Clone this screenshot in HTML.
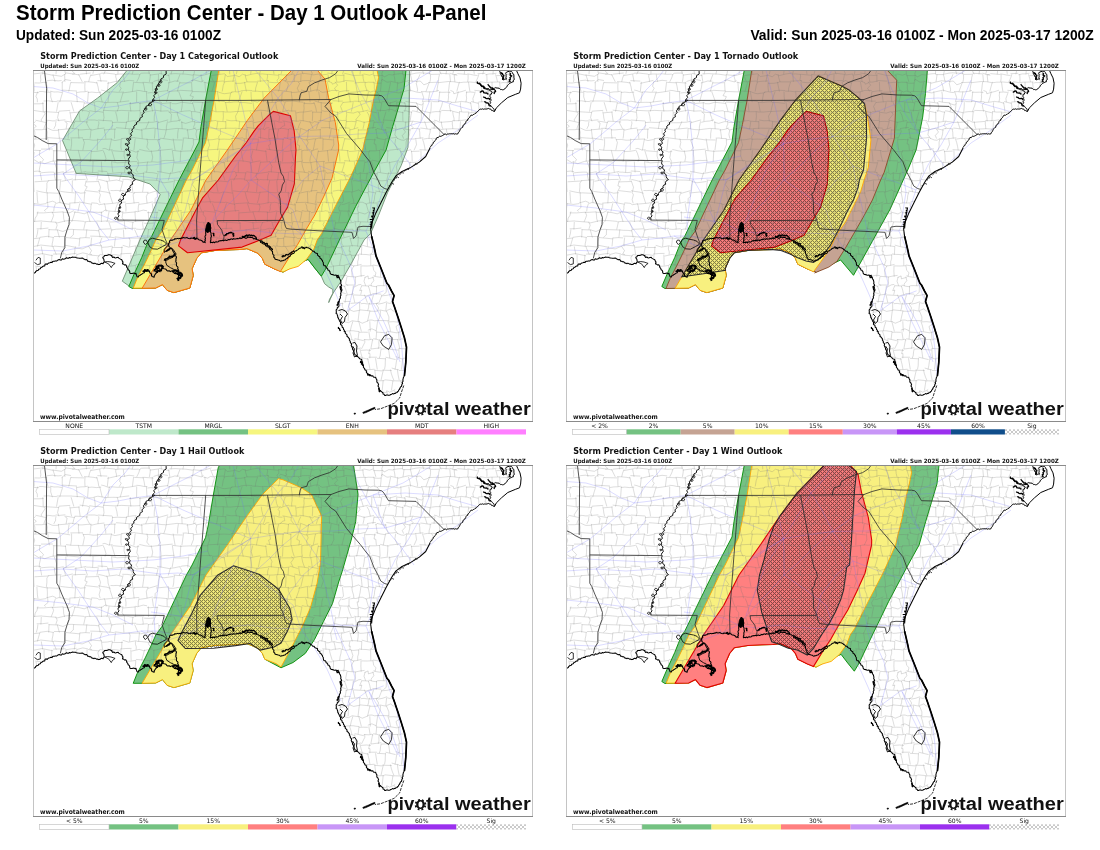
<!DOCTYPE html><html><head><meta charset="utf-8"><title>SPC Day 1 Outlook 4-Panel</title><style>html,body{margin:0;padding:0;background:#fff;width:1100px;height:850px;overflow:hidden}svg{display:block}.t1{font-family:"Liberation Sans",Arial,sans-serif;font-weight:bold;font-size:21.5px;fill:#000}.t2{font-family:"Liberation Sans",Arial,sans-serif;font-weight:bold;font-size:14.6px;fill:#000}.pt{font-family:"DejaVu Sans","Liberation Sans",sans-serif;font-weight:bold;font-size:8.9px;fill:#111}.ps{font-family:"DejaVu Sans","Liberation Sans",sans-serif;font-weight:bold;font-size:5.8px;fill:#111}.www{font-family:"DejaVu Sans","Liberation Sans",sans-serif;font-weight:bold;font-size:6.6px;fill:#111}.logo{font-family:"Liberation Sans",Arial,sans-serif;font-weight:bold;font-size:18.3px;fill:#111}.lg{font-family:"DejaVu Sans","Liberation Sans",sans-serif;font-size:6.1px;fill:#111}</style></head><body><svg width="1100" height="850" viewBox="0 0 1100 850"><defs><clipPath id="clipmap"><rect x="0" y="0" width="500" height="352"/></clipPath><pattern id="hatch" patternUnits="userSpaceOnUse" width="4" height="4"><path d="M0 0h1v1h-1zM2 2h1v1h-1zM1 1h1v1h-1zM3 3h1v1h-1zM1 3h1v1h-1zM3 1h1v1h-1z" fill="#000" fill-opacity="0.46"/><path d="M1 0h1v1h-1zM3 0h1v1h-1zM0 1h1v1h-1zM2 1h1v1h-1zM1 2h1v1h-1zM3 2h1v1h-1zM0 3h1v1h-1zM2 3h1v1h-1z" fill="#000" fill-opacity="0.08"/></pattern><pattern id="hatchleg" patternUnits="userSpaceOnUse" width="4" height="4"><rect width="4" height="4" fill="#fff"/><path d="M0 0L4 4M4 0L0 4" stroke="#000" stroke-opacity="0.35" stroke-width="0.6"/></pattern><g id="base"><path d="M10.1 0.0L10.0 1.8L9.6 4.3M22.6 0.0L23.2 1.3L23.0 4.3M31.7 0.0L32.6 4.3M39.2 0.0L38.9 0.7L41.8 3.6L39.2 4.3M53.5 0.0L53.3 1.2L53.5 4.3M60.7 0.0L59.8 4.3M72.7 0.0L72.5 0.4L70.7 4.3M85.6 0.0L85.0 1.3L84.9 4.3M100.3 0.0L99.2 4.3M115.7 0.0L116.3 4.3M128.1 0.0L128.4 4.3M139.1 0.0L138.2 3.5L138.1 4.3M150.8 0.0L150.5 1.4L149.9 4.3M161.6 0.0L161.0 4.3M173.5 0.0L173.0 4.3M186.2 0.0L186.3 0.5L186.8 4.3M196.5 0.0L196.8 4.3M204.2 0.0L204.0 1.2L203.3 4.3M218.2 0.0L217.6 4.3M227.6 0.0L226.5 4.3M240.4 0.0L241.0 4.3M249.0 0.0L248.0 4.3M260.5 0.0L259.8 1.8L258.6 4.3M269.0 0.0L268.9 0.7L270.1 4.3M277.6 0.0L278.7 2.0L279.5 4.3M289.0 0.0L289.0 0.1L288.4 4.3M299.2 0.0L299.2 0.0L298.8 4.3M308.2 0.0L308.1 0.5L310.8 0.2L309.5 4.3M319.7 0.0L319.7 1.7L320.3 4.3M327.5 0.0L327.0 4.3M340.6 0.0L340.3 1.6L340.4 4.3M348.0 0.0L349.9 0.7L348.6 4.3M360.9 0.0L361.4 4.3M369.6 0.0L369.5 4.3M378.6 0.0L377.5 4.3M389.5 0.0L390.7 4.3M397.6 0.0L396.8 1.6L396.3 4.3M406.7 0.0L406.6 1.1L408.2 4.3M413.6 0.0L413.0 4.3M420.7 0.0L419.8 4.3M431.6 0.0L431.5 1.6L431.3 4.3M440.8 0.0L441.3 4.3M450.8 0.0L449.8 4.3M460.2 0.0L460.2 1.8L459.9 4.3M476.8 1.6L476.3 4.3M0.0 4.0L8.9 3.0M8.9 3.0L20.3 5.4M7.9 4.3L7.5 6.8L7.8 9.7L7.5 11.9M20.3 5.1L28.4 6.3L32.7 3.8M19.9 4.3L20.6 7.1L21.6 9.7L22.0 11.9M32.7 2.9L46.9 5.0M31.6 4.3L31.9 11.9M46.9 4.2L57.7 3.0M45.5 4.3L49.3 11.9M57.7 5.6L68.1 3.7M58.1 4.3L56.5 8.3L55.7 11.9M68.1 3.2L73.1 3.1L77.5 3.6L82.1 4.1M66.6 4.3L68.1 11.9M82.1 4.5L86.8 4.0L91.2 4.0M82.9 4.3L82.7 6.8L83.4 9.0L83.4 11.9M91.2 4.2L96.2 3.8L101.2 4.3L105.8 4.1M90.3 4.3L90.7 7.8L91.7 11.9M105.8 5.1L108.1 3.3L111.1 3.1L116.8 3.1M107.0 4.3L105.6 8.1L103.7 11.9M116.8 5.1L126.0 3.9M117.4 4.3L117.1 7.8L116.4 11.9M126.0 3.3L136.3 5.7M125.5 4.3L125.4 11.9M136.3 3.9L139.1 3.8L142.5 3.6L145.8 3.8M135.6 4.3L136.9 11.9M145.8 3.8L152.9 4.2L159.9 5.2M147.0 4.3L144.0 11.9M159.9 4.7L169.2 5.6M160.4 4.3L160.1 8.2L159.2 11.9M169.2 5.6L178.5 2.9M168.1 4.3L168.1 6.5L168.9 9.3L169.2 11.9M178.5 5.5L191.2 3.8M177.4 4.3L180.5 11.9M191.2 3.6L194.4 6.5L201.5 5.5M192.4 4.3L191.1 11.9M201.5 5.0L206.2 6.8L209.5 4.2L212.5 5.2M201.3 4.3L199.9 11.9M212.5 5.8L219.3 4.1L226.2 3.0M212.2 4.3L212.6 7.3L214.1 11.9M226.2 4.1L229.4 3.9L232.0 4.2L235.1 4.4M226.8 4.3L227.4 11.9M235.1 4.3L245.4 5.3M234.3 4.3L234.6 6.2L234.0 9.6L235.7 11.9M245.4 4.3L248.1 4.9L251.2 5.0L253.7 4.8M245.7 4.3L245.8 8.3L243.9 10.2L244.8 11.9M253.7 5.4L257.7 4.7L261.3 3.9M253.7 4.3L252.8 8.8L253.8 9.1L251.9 11.9M261.3 5.5L264.7 4.5L268.6 3.7M261.2 4.3L261.2 11.9M268.6 3.1L274.1 3.8L279.4 4.5M268.1 4.3L267.7 11.9M279.4 5.0L286.9 3.9M278.5 4.3L278.1 6.8L277.5 9.4L277.0 11.9M286.9 5.1L294.3 4.3M286.6 4.3L287.8 7.3L286.4 11.9M294.3 3.0L302.0 4.2M294.9 4.3L296.2 11.9M302.0 5.5L304.9 5.2L307.9 5.5L311.3 5.2M302.8 4.3L302.9 6.9L303.3 9.2L303.9 11.9M311.3 3.3L321.4 5.6M310.9 4.3L310.9 11.9M321.4 5.4L325.8 5.3L330.6 5.0M320.4 4.3L321.7 8.2L322.6 11.9M330.6 3.9L336.5 5.2L340.4 3.9M329.8 4.3L330.2 8.5L331.0 11.9M340.4 5.6L343.7 5.6L346.8 5.7L349.7 5.3M340.7 4.3L342.9 11.9M349.7 5.1L351.1 7.0L355.8 4.6L360.0 5.0M349.2 4.3L348.8 11.9M360.0 4.6L365.8 3.8L369.7 3.6M360.7 4.3L361.6 7.9L362.1 11.9M369.7 4.6L377.5 4.6M371.1 4.3L370.0 11.9M377.5 4.3L380.3 3.7L383.2 3.1L386.0 2.9M377.3 4.3L378.1 7.1L378.6 9.6L379.3 11.9M386.0 2.8L397.5 3.5M386.9 4.3L386.1 6.5L384.5 9.6L383.5 11.9M397.5 4.4L406.5 4.2M397.4 4.3L397.6 7.1L397.4 9.4L397.0 11.9M406.5 3.2L416.6 3.9M406.5 4.3L405.7 7.8L405.3 11.9M416.6 3.1L420.8 4.6L424.3 5.3M416.8 4.3L417.5 11.9M424.3 3.6L434.4 4.5M423.8 4.3L421.1 4.7L421.8 11.2L421.9 11.9M434.4 3.8L437.5 4.4L440.8 5.1L444.5 5.5M435.1 4.3L435.1 8.4L434.7 11.9M444.5 3.7L452.3 3.3M445.8 4.3L445.0 7.1L444.0 9.4L442.7 11.9M452.3 4.8L456.3 3.9L459.8 3.9L463.5 3.2M453.7 4.3L453.9 6.8L454.0 9.6L453.9 11.9M463.5 5.6L467.9 5.5L468.5 5.5M462.5 4.3L463.7 8.4L464.5 11.9M472.8 4.9L480.1 3.4M473.1 8.3L473.1 8.3L474.6 11.9M479.4 4.3L480.3 10.9M1.9 12.9L6.1 13.0L10.3 12.4L14.1 12.4M0.7 11.9L1.0 15.0L1.1 18.1L1.2 21.5M14.1 10.7L19.2 10.2L25.1 10.9L28.6 10.5M13.0 11.9L13.8 15.4L14.3 18.6L15.1 21.5M28.6 12.6L32.4 9.6L38.0 10.5M29.3 11.9L29.2 21.5M38.0 12.6L51.0 12.9M37.9 11.9L37.1 15.0L36.5 18.4L35.7 21.5M51.0 11.7L55.3 11.8L60.2 12.3L64.4 13.0M52.0 11.9L51.8 16.8L52.0 21.5M64.4 10.6L74.3 11.1M63.6 11.9L65.1 17.0L65.8 21.5M74.3 13.4L87.4 10.4M75.4 11.9L74.3 21.5M87.4 11.9L96.1 10.3L101.2 10.9M87.6 11.9L86.6 16.2L88.2 18.2L86.4 21.5M101.2 12.4L105.8 12.6L110.7 12.8M100.6 11.9L99.4 21.5M110.7 12.3L115.5 12.7L120.5 13.1M110.0 11.9L111.1 16.7L111.9 21.5M120.5 11.5L123.7 10.4L128.7 9.4L134.9 10.5M119.3 11.9L119.3 14.7L119.9 21.5M134.9 13.1L141.7 11.0L146.4 11.1M136.1 11.9L135.5 17.0L134.4 21.5M146.4 12.9L152.4 12.9L158.1 12.7M147.0 11.9L145.4 17.4L144.4 21.5M158.1 10.6L161.6 10.1L168.3 11.9L170.5 10.6M158.6 11.9L158.7 14.9L159.1 21.5M170.5 12.1L174.8 13.1L177.5 11.4L181.1 12.1M171.9 11.9L172.3 18.2L172.7 21.5M181.1 11.6L185.8 11.3L190.5 11.0M181.8 11.9L179.0 21.5M190.5 12.0L194.6 11.4L197.8 11.2L202.1 10.9M191.6 11.9L190.2 15.6L189.2 21.5M202.1 13.4L207.6 13.3L212.9 12.5M202.2 11.9L202.0 16.6L202.5 21.5M212.9 11.9L224.2 11.9M211.4 11.9L213.4 21.5M224.2 11.2L236.1 10.6M224.6 11.9L222.7 18.0L222.4 21.5M236.1 12.2L241.1 12.7L246.5 12.5M235.0 11.9L235.3 15.4L235.9 18.3L236.5 21.5M246.5 10.7L247.7 9.2L253.0 11.0L254.7 11.3M247.7 11.9L246.8 14.8L246.5 18.6L245.4 21.5M254.7 11.7L258.4 11.8L261.9 11.3L265.6 11.4M253.7 11.9L255.5 14.2L254.3 18.3L253.2 21.5M265.6 11.8L269.6 10.7L276.7 10.5M265.0 11.9L266.7 13.5L264.3 18.2L265.7 21.5M276.7 11.8L279.5 10.5L285.5 13.2M276.0 11.9L277.2 16.4L277.9 21.5M285.5 10.9L288.2 11.3L291.0 10.9L294.0 11.4M285.7 11.9L283.8 21.5M294.0 10.9L298.9 12.7L299.3 14.2L302.2 13.0M294.4 11.9L296.2 21.5M302.2 12.3L307.0 12.0L311.9 10.9M301.9 11.9L304.7 15.2L301.5 18.2L303.7 21.5M311.9 10.5L321.6 11.2M313.4 11.9L313.6 16.7L313.7 21.5M321.6 13.0L327.3 12.4L332.8 12.4M322.4 11.9L324.1 21.5M332.8 12.6L335.4 12.2L338.3 12.3L341.2 12.3M332.2 11.9L332.1 15.1L334.2 21.5M341.2 13.0L345.1 13.3L348.4 13.1M340.8 11.9L341.4 15.4L341.3 18.2L342.0 21.5M348.4 11.1L349.0 9.2L354.0 12.2L356.9 11.9M348.3 11.9L347.9 16.9L347.4 21.5M356.9 11.1L365.6 13.2M357.7 11.9L355.7 21.5M365.6 13.1L376.1 10.6M364.8 11.9L363.9 21.5M376.1 10.8L378.5 11.1L381.4 11.2L384.2 11.6M375.3 11.9L376.9 16.7L377.7 21.5M384.2 11.4L387.3 11.0L390.8 14.8L395.1 13.3M384.0 11.9L383.3 13.5L384.6 19.3L384.3 21.5M395.1 12.6L405.3 12.2M396.5 11.9L393.0 21.5M405.3 12.7L415.4 11.5M405.4 11.9L404.8 15.2L404.2 18.5L404.0 21.5M415.4 11.5L420.2 11.7L425.7 12.6M416.7 11.9L416.2 15.3L415.9 18.3L415.4 21.5M425.7 12.8L430.8 12.2L435.8 12.1M426.4 11.9L425.0 16.9L423.8 21.5M435.8 11.9L441.4 12.4L446.2 13.2M446.2 13.2L447.2 13.3M435.5 11.9L436.1 16.5L436.9 21.5M447.2 11.6L453.1 12.7L458.1 12.1M447.6 11.9L448.1 14.9M448.1 15.1L449.0 21.5M458.1 12.2L467.4 11.9M459.0 11.9L459.1 15.1L459.2 18.6L459.2 19.0M467.4 13.1L470.0 12.5L472.0 12.7L474.9 12.3M466.5 11.9L467.1 17.0L467.5 19.3M474.9 12.7L478.6 12.1L480.0 11.8M474.5 11.9L473.7 16.9M0.0 22.4L6.1 22.7M6.1 21.5L9.5 21.5L13.9 22.2L17.3 22.3M4.9 21.5L2.9 26.3L4.3 29.0L4.4 32.2M17.3 21.2L21.0 22.0L25.0 21.9L29.1 22.6M17.8 21.5L17.7 26.9L19.4 32.2M29.1 20.1L43.9 21.0M29.9 21.5L28.3 26.6L26.7 32.2M43.9 22.5L47.9 21.9L51.4 21.8L54.8 21.2M43.4 21.5L44.3 32.2M54.8 22.5L58.9 22.1L63.8 22.6L68.2 22.1M55.4 21.5L54.6 32.2M68.2 20.0L71.1 20.7L74.4 22.0L77.3 22.5M66.7 21.5L69.2 32.2M77.3 21.7L84.3 22.3L89.6 22.1M76.4 21.5L74.9 32.2M89.6 22.9L96.1 22.1L103.4 20.9M90.3 21.5L87.2 32.2M103.4 20.3L107.0 20.6L111.0 21.5L114.4 21.6M103.7 21.5L103.6 32.2M114.4 23.0L118.2 22.6L121.7 23.0L124.8 22.7M113.4 21.5L114.0 32.2M124.8 21.9L135.2 20.5M124.2 21.5L125.9 26.5L127.0 32.2M135.2 21.7L140.9 21.0L147.1 20.7M136.5 21.5L133.4 32.2M147.1 20.3L159.7 21.0M145.7 21.5L149.6 32.2M159.7 21.6L164.3 21.6L169.8 21.8L174.3 21.9M159.5 21.5L157.0 25.6L160.4 26.7L157.7 32.2M174.3 21.1L185.2 21.5M174.6 21.5L171.9 32.2M185.2 22.0L189.5 23.4L191.6 23.7L197.9 22.9M184.3 21.5L186.2 32.2M197.9 22.5L201.3 21.7L204.6 21.9L207.8 21.2M199.1 21.5L197.5 23.8L196.2 30.7L196.1 32.2M207.8 20.8L213.2 20.3L219.1 20.5M209.1 21.5L205.3 32.2M219.1 21.1L224.2 21.2L229.2 21.8M218.0 21.5L218.2 26.6L218.7 32.2M229.2 21.4L234.6 21.6L239.7 21.5M229.7 21.5L230.5 32.2M239.7 20.1L243.0 20.1L245.5 20.4L248.4 20.6M238.8 21.5L238.7 24.7L239.4 28.5L239.2 32.2M248.4 20.7L258.5 22.0M249.2 21.5L248.6 32.2M258.5 22.5L262.9 22.3L268.0 21.6M258.4 21.5L258.5 24.7L259.1 28.8L259.2 32.2M268.0 20.0L276.9 21.8M268.7 21.5L267.5 26.8L266.3 32.2M276.9 21.3L281.9 20.1L284.4 19.9L287.0 20.6M275.9 21.5L277.1 32.2M287.0 21.3L289.4 22.3L295.0 21.7M285.7 21.5L286.7 28.2L285.2 32.2M295.0 21.6L298.9 20.4L305.8 20.5M294.2 21.5L293.8 28.7L297.1 32.2M305.8 21.8L311.4 20.9L316.3 20.6M305.9 21.5L305.3 25.8L305.8 32.2M316.3 22.3L321.0 22.1L324.9 21.9M315.1 21.5L316.6 27.2L317.3 32.2M324.9 21.6L334.3 20.4M324.3 21.5L325.1 24.8L325.5 28.8L325.8 32.2M334.3 20.2L337.2 22.0L340.5 21.1L344.9 22.4M335.6 21.5L333.0 32.2M344.9 21.4L350.2 21.5L355.5 21.7M343.8 21.5L346.5 25.4L345.4 27.5L346.9 32.2M355.5 21.3L366.4 23.0M355.5 21.5L354.5 25.4L354.0 28.3L353.7 32.2M366.4 22.5L377.2 20.1M367.8 21.5L368.0 25.2L367.9 28.7L368.5 32.2M377.2 20.2L380.5 21.2L384.0 22.2L387.9 22.6M375.8 21.5L376.3 24.8L376.3 28.7L376.4 32.2M387.9 21.8L391.3 21.6L394.5 21.9L398.0 21.8M388.6 21.5L390.6 27.4L389.3 32.2M398.0 21.9L402.7 21.3L405.9 20.4M396.9 21.5L396.3 24.9L395.7 28.6L395.6 32.2M405.9 22.2L409.9 22.3L413.5 22.2L417.4 22.4M406.8 21.5L406.2 27.1L405.6 32.2M417.4 20.4L420.4 21.7L420.8 23.8L424.8 22.5M416.0 21.5L415.4 25.5L415.6 27.0L414.9 32.2M424.8 22.5L429.0 21.5L432.9 20.2M425.3 21.5L424.0 27.1L422.4 32.2M432.9 22.3L437.5 22.0L441.4 22.4M433.7 21.5L433.3 25.3L433.6 28.5L432.9 32.2M441.4 20.3L448.5 21.0M442.2 21.5L441.8 23.3L439.9 28.6L440.4 32.2M448.5 21.3L456.6 21.4M447.3 21.5L448.9 32.2M456.6 21.7L458.9 21.8M455.3 21.5L456.1 24.9L456.0 28.4L456.5 32.2M0.0 33.7L1.4 33.8L6.0 33.8L10.6 33.5M10.6 31.0L15.3 30.8L19.3 31.4L23.8 31.6M9.8 32.2L10.1 36.9L10.2 41.6M23.8 31.0L38.6 31.0M25.2 32.2L23.5 41.6M38.6 31.1L43.0 31.4L47.0 31.7L51.2 32.0M38.1 32.2L40.9 41.6M51.2 33.2L60.6 32.7M51.4 32.2L49.5 41.6M60.6 32.2L64.9 31.2L71.6 32.4M61.1 32.2L61.7 35.1L62.1 38.3L62.2 41.6M71.6 32.6L78.9 32.3L85.7 32.4M73.0 32.2L72.4 35.0L71.1 38.5L70.4 41.6M85.7 32.1L96.2 30.9M84.2 32.2L85.7 37.4L84.1 41.6M96.2 33.3L98.7 33.7L103.2 32.9L106.0 32.6M97.5 32.2L97.1 35.3L97.9 41.6M106.0 33.5L112.5 32.6L118.6 31.2M107.1 32.2L106.9 41.6M118.6 32.4L129.1 33.0M118.3 32.2L118.7 37.1L119.7 41.6M129.1 33.5L138.7 32.7M128.1 32.2L127.8 41.6M138.7 33.6L143.1 33.8L148.8 32.3M137.3 32.2L137.3 37.1L137.9 41.6M148.8 32.3L154.5 32.9L159.9 33.5M149.4 32.2L149.0 37.1L148.1 41.6M159.9 32.0L170.0 32.5M159.4 32.2L160.9 37.3L162.0 41.6M170.0 32.8L175.5 32.3L181.7 31.1M169.6 32.2L167.8 41.6M181.7 30.8L187.0 30.9L191.7 31.5M181.9 32.2L183.0 41.6M191.7 32.4L196.7 32.6L200.9 32.0L205.9 31.9M192.5 32.2L194.2 41.6M205.9 32.5L212.0 32.6L218.9 33.4M207.1 32.2L205.9 37.0L204.9 41.6M218.9 31.0L224.5 32.1L227.1 30.6L233.3 30.9M220.0 32.2L220.6 36.6L221.4 41.6M233.3 32.8L243.9 32.2M234.2 32.2L234.8 35.3L234.8 38.6L235.2 41.6M243.9 31.6L249.2 30.8L251.5 32.2M242.5 32.2L243.6 38.4L244.8 41.6M251.5 31.7L255.8 31.4L259.5 31.0M252.3 32.2L251.2 35.1L250.3 38.8L249.8 41.6M259.5 31.1L270.5 32.2M259.1 32.2L259.1 35.5L258.6 38.5L258.8 41.6M270.5 33.3L274.4 33.6L277.6 33.7L281.6 33.3M271.5 32.2L270.9 35.6L271.1 38.6L270.7 41.6M281.6 31.0L283.7 31.6L286.6 32.5L288.9 32.8M280.7 32.2L282.0 35.2L282.9 38.2L283.5 41.6M288.9 32.9L299.4 33.5M288.2 32.2L288.4 41.6M299.4 30.8L303.1 30.9L306.3 31.2L309.8 31.1M299.1 32.2L298.2 34.3L297.3 40.6L298.4 41.6M309.8 32.5L320.7 31.5M310.1 32.2L307.6 36.4L309.5 41.6M320.7 31.2L324.8 31.3L328.1 31.5M320.2 32.2L319.4 36.8L318.3 41.6M328.1 30.8L337.6 31.7M327.1 32.2L328.9 36.6L330.3 41.6M337.6 31.7L341.0 32.2L344.6 32.2L348.6 32.8M338.8 32.2L338.6 41.6M348.6 31.2L352.5 32.0L356.0 32.4M348.9 32.2L347.2 41.6M356.0 33.3L363.9 30.9M357.4 32.2L356.8 37.0L355.8 41.6M363.9 32.0L372.5 33.2M363.6 32.2L364.2 38.6L361.8 41.6M372.5 31.4L377.9 32.4L383.1 32.8M371.6 32.2L372.9 37.3L371.6 41.6M383.1 33.4L388.7 35.1L390.1 33.4M383.3 32.2L385.3 37.3L384.0 41.6M390.1 31.5L393.5 31.1L396.5 31.2L399.6 31.1M390.3 32.2L389.2 41.6M399.6 31.6L404.3 31.7L408.5 31.0M398.3 32.2L398.2 36.9L397.8 41.6M408.5 31.5L418.3 31.8M409.5 32.2L408.8 35.3L407.5 38.7L406.5 41.6M418.3 32.4L421.4 32.4L425.5 31.9L428.5 31.3M418.6 32.2L416.2 34.9L417.6 41.6M428.5 31.5L433.7 32.0L438.1 33.3M427.7 32.2L427.3 35.7L427.8 37.6L428.6 41.6M438.1 31.5L445.4 33.4M437.5 32.2L438.4 37.0L438.9 41.6M445.4 32.0L453.7 31.4M445.1 32.2L445.8 35.8L445.9 38.8L446.2 40.1M453.7 33.1L457.3 32.3M453.5 32.2L451.9 36.9L453.1 37.1L453.4 38.8M0.0 40.3L11.1 42.0M11.1 41.6L25.8 42.5M10.9 41.6L12.1 43.7L8.0 50.0L9.0 51.3M25.8 41.2L37.2 40.4M25.9 41.6L24.6 47.4L25.9 51.3M37.2 42.9L46.7 42.0M36.7 41.6L37.5 45.2L37.8 47.9L38.6 51.3M46.7 40.1L49.7 40.5L53.2 40.8L56.3 41.7M45.8 41.6L47.2 51.3M56.3 40.6L61.2 41.5L65.3 41.4L70.1 42.3M56.6 41.6L55.8 44.6L54.6 47.8L53.9 51.3M70.1 40.3L82.2 40.9M70.4 41.6L71.0 47.7L70.2 51.3M82.2 40.8L88.7 40.4L95.2 40.7M82.6 41.6L83.9 46.8L84.5 51.3M95.2 40.7L101.2 40.9L107.1 40.6M95.8 41.6L95.2 51.3M107.1 43.0L114.8 41.5L121.8 40.2M107.3 41.6L106.7 51.3M121.8 40.2L128.7 41.1L135.5 40.8M122.1 41.6L121.3 46.1L121.2 51.3M135.5 42.0L145.7 42.8M136.0 41.6L138.4 44.3L137.9 51.3M145.7 42.0L151.3 41.1L157.6 40.7M144.2 41.6L144.5 44.8L145.7 47.7L146.4 51.3M157.6 41.5L162.3 41.7L167.2 42.6M158.5 41.6L158.9 46.9L159.6 51.3M167.2 40.3L170.7 40.8L178.4 41.2M167.3 41.6L168.0 51.3M178.4 40.3L182.8 41.8L191.4 41.6M177.9 41.6L178.7 51.3M191.4 42.0L197.8 42.0L204.2 41.4M190.2 41.6L190.4 46.8L189.9 51.3M204.2 41.6L218.5 40.7M205.0 41.6L202.5 46.1L203.4 51.3M218.5 41.2L221.4 40.9L225.0 40.6L227.9 40.2M217.1 41.6L218.9 44.8L220.8 51.3M227.9 40.3L231.4 40.5L234.2 41.0L237.5 41.1M228.3 41.6L228.7 45.2L230.2 51.3M237.5 42.6L242.7 42.0L247.7 41.9M236.9 41.6L237.5 44.8L238.6 48.1L239.3 51.3M247.7 42.9L250.3 41.7L253.1 40.8L256.0 40.2M247.6 41.6L245.1 44.3L246.6 46.3L246.0 51.3M256.0 40.9L263.2 41.0M254.8 41.6L258.4 51.3M263.2 43.0L266.7 42.2L270.6 42.0M262.6 41.6L263.2 46.5L263.2 51.3M270.6 42.1L274.7 41.5L279.2 40.8M270.4 41.6L270.1 45.1L270.1 48.5L270.2 51.3M279.2 42.1L289.0 42.3M279.7 41.6L279.6 46.2L279.3 51.3M289.0 40.7L292.0 41.4L294.3 41.2L297.0 42.0M288.3 41.6L287.5 51.3M297.0 40.7L299.7 41.1L303.0 42.2L305.9 42.6M296.7 41.6L297.4 51.3M305.9 41.8L308.9 41.7L311.2 41.2L313.9 41.3M304.4 41.6L305.1 51.3M313.9 42.3L320.3 43.1L325.1 41.5M313.4 41.6L313.7 44.6L313.2 48.4L313.4 51.3M325.1 42.2L330.1 41.4L335.2 40.1M325.7 41.6L327.0 44.5L322.9 49.5L323.2 51.3M335.2 41.0L343.9 42.8M333.9 41.6L335.9 45.1L337.4 51.3M343.9 40.2L352.5 40.6M345.3 41.6L346.2 51.3M352.5 40.4L356.0 39.3L359.0 39.5L362.4 41.0M353.0 41.6L350.1 51.3M362.4 41.0L370.6 42.8M363.6 41.6L363.2 45.1L363.1 47.9L362.3 51.3M370.6 40.8L373.8 40.9L376.0 41.8L379.1 42.2M369.7 41.6L369.9 51.3M379.1 40.8L381.9 41.2L384.8 42.0L387.4 42.8M378.7 41.6L378.0 45.0L377.6 47.8L377.1 51.3M387.4 40.4L392.8 41.8L398.2 43.0M388.2 41.6L388.4 44.9L388.3 48.1L387.9 51.3M398.2 42.2L403.0 41.6L408.3 41.7M397.3 41.6L396.6 46.1L396.3 51.3M408.3 40.4L419.0 40.7M407.2 41.6L406.4 51.3M419.0 41.1L426.3 42.9M419.7 41.6L420.1 44.7L421.0 48.3L421.1 51.3M426.3 41.5L430.7 42.1L435.5 42.0M426.6 41.6L426.2 46.6L425.9 51.3M435.5 43.1L439.8 42.3L444.0 41.8M435.8 41.6L435.1 46.5L434.8 49.9M459.9 40.6L461.0 40.6L461.3 40.7M2.5 50.2L12.9 52.6M2.5 51.3L0.2 53.8L3.3 56.0L0.5 58.9M12.9 50.3L16.1 50.4L19.7 50.9L22.7 50.8M14.0 51.3L12.8 54.0L11.6 56.3L10.9 58.9M22.7 49.9L26.3 50.4L32.4 49.8M23.1 51.3L22.5 53.8L22.7 55.1L20.8 58.9M32.4 51.2L35.8 51.6L38.4 52.1L41.6 52.6M31.5 51.3L34.1 53.1L33.1 58.9M41.6 51.2L48.2 51.4L55.1 52.1M42.0 51.3L40.9 53.8L40.3 56.4L39.7 58.9M55.1 50.0L58.5 50.0L61.8 50.0L64.7 50.6M53.8 51.3L53.5 53.0L56.6 58.9M64.7 50.0L79.2 51.0M65.7 51.3L65.9 53.6L65.2 56.4L65.0 58.9M79.2 52.6L84.3 52.2L88.8 52.4L94.1 52.4M79.5 51.3L79.3 55.4L78.6 58.9M94.1 51.7L99.2 50.9L103.4 50.6M93.7 51.3L92.3 58.9M103.4 52.8L115.1 52.7M102.7 51.3L101.9 53.7L101.5 56.4L101.2 58.9M115.1 52.4L120.3 52.2L124.7 51.3M115.8 51.3L115.0 53.6L113.6 56.5L112.7 58.9M124.7 52.8L128.1 51.8L132.0 50.7L135.2 49.9M125.4 51.3L124.7 53.8L124.5 56.3L124.5 58.9M135.2 52.3L139.8 51.3L143.7 51.0L148.0 49.8M134.5 51.3L133.4 56.8L133.3 58.9M148.0 52.1L152.7 53.4L158.3 51.7L162.4 51.6M148.8 51.3L149.1 58.9M162.4 52.5L167.4 52.4L172.9 51.6M161.6 51.3L161.8 54.2L160.8 56.3L160.9 58.9M172.9 52.3L178.5 51.0L183.3 50.4M173.4 51.3L173.8 53.9L173.5 56.0L173.6 58.9M183.3 51.0L188.3 51.5L193.2 51.7M184.8 51.3L184.1 56.2L183.5 58.9M193.2 50.0L198.0 50.8L202.7 50.6L207.0 51.4M192.7 51.3L192.9 54.7L192.7 58.9M207.0 51.7L211.2 51.8L215.7 51.7L220.4 51.1M206.6 51.3L206.0 58.9M220.4 52.7L231.8 50.7M220.0 51.3L220.9 58.9M231.8 51.4L235.9 51.5L240.2 51.2M232.4 51.3L231.7 55.1L230.3 58.9M240.2 50.9L243.1 51.0L246.0 52.1L249.5 52.2M241.2 51.3L241.7 55.1L242.3 58.9M249.5 50.8L258.3 52.5M250.9 51.3L251.8 55.7L249.6 56.2L247.1 58.9M258.3 50.3L261.1 50.9L263.7 51.2L266.4 51.1M258.5 51.3L258.0 55.2L260.7 58.9M266.4 50.3L270.1 50.7L274.0 51.5L277.8 52.2M267.9 51.3L266.2 55.0L264.8 58.9M277.8 52.2L279.1 53.1L281.4 51.6L285.6 52.4M276.7 51.3L278.0 54.2L279.1 56.2L280.1 58.9M285.6 50.5L288.8 50.4L292.2 51.1L295.7 51.4M286.2 51.3L284.4 55.4L283.3 58.9M295.7 51.5L300.2 50.7L305.3 49.9M296.3 51.3L296.6 58.9M305.3 50.1L309.3 50.5L313.1 50.4M304.0 51.3L304.2 53.9L304.0 56.5L304.0 58.9M313.1 51.6L318.3 51.4L323.1 51.7M313.4 51.3L312.6 58.9M323.1 50.2L327.4 51.2L332.1 52.7M323.3 51.3L321.2 58.9M332.1 52.2L336.8 51.3L341.0 50.5M331.2 51.3L330.9 54.8L330.0 58.9M341.0 52.3L350.5 52.2M341.1 51.3L339.9 58.9M350.5 50.1L361.1 50.5M351.0 51.3L349.6 55.1L348.5 58.9M361.1 51.7L366.3 51.6L371.7 51.8M360.0 51.3L362.1 54.9L363.3 58.9M371.7 52.4L380.5 51.0M372.8 51.3L372.0 58.9M380.5 51.5L384.7 51.8L388.4 52.4L391.8 52.3M379.8 51.3L377.8 55.3L380.1 57.7L379.0 58.9M391.8 52.4L394.9 52.3L398.0 52.0L401.0 51.7M391.6 51.3L392.8 55.0L394.1 58.9M401.0 50.1L403.5 50.7L406.1 52.0L409.1 52.5M401.9 51.3L401.0 58.9M409.1 52.2L419.3 51.4M408.2 51.3L408.6 54.1L409.0 56.5L409.9 58.9M419.3 50.6L423.9 50.7L428.1 50.3M419.4 51.3L419.3 54.1L419.6 56.2L419.8 58.9M428.1 50.5L432.9 49.8L433.9 50.2L434.4 50.4M427.5 51.3L427.0 58.9M2.2 59.7L8.4 59.7L14.1 59.1M0.9 58.9L1.8 62.0L1.8 65.0L2.5 68.6M14.1 57.9L18.2 59.8L19.9 60.4L25.1 60.3M13.4 58.9L14.3 62.1L14.0 65.2L14.8 68.6M25.1 59.8L35.0 59.0M25.3 58.9L25.9 63.7L26.4 68.6M35.0 58.4L38.6 58.3L41.4 58.8L44.8 58.9M36.1 58.9L35.7 62.1L35.2 65.3L35.2 68.6M44.8 59.9L49.1 59.9L54.1 59.4L58.3 59.3M45.5 58.9L45.4 63.5L46.0 68.6M58.3 60.2L64.5 58.8L71.4 58.0M58.0 58.9L57.8 61.7L57.5 65.7L57.0 68.6M71.4 60.0L77.3 59.4L83.0 59.0M71.3 58.9L71.9 63.0L72.7 65.3L72.8 68.6M83.0 57.7L97.3 58.8M81.8 58.9L81.6 63.9L81.5 68.6M97.3 58.3L109.5 60.3M96.2 58.9L96.1 63.1L98.8 68.6M109.5 59.2L121.3 58.1M108.7 58.9L109.2 68.6M121.3 58.2L125.0 59.0L128.9 59.6L132.1 59.7M122.1 58.9L121.9 63.6L121.4 68.6M132.1 59.9L138.2 59.1L144.0 58.4M133.4 58.9L132.4 64.0L130.8 68.6M144.0 58.4L153.5 59.1M145.4 58.9L144.7 63.6L144.6 68.6M153.5 60.1L158.6 59.4L163.1 58.0M154.3 58.9L155.7 68.6M163.1 59.9L168.4 58.9L173.7 58.0M162.1 58.9L163.7 60.5L162.9 64.2L163.8 68.6M173.7 57.7L180.3 58.3L186.9 59.0M172.5 58.9L173.2 62.2L174.3 65.1L174.8 68.6M186.9 58.6L194.1 58.2L201.8 58.3M187.4 58.9L187.6 64.3L185.9 66.0L185.6 68.6M201.8 58.1L213.7 59.3M203.2 58.9L201.7 63.6L199.5 68.6M213.7 57.4L227.9 59.2M214.0 58.9L213.3 63.4L213.2 68.6M227.9 58.6L232.0 59.7L232.9 58.0L236.3 57.6M227.7 58.9L227.5 68.6M236.3 59.3L244.9 58.9M236.1 58.9L235.7 68.6M244.9 59.0L247.5 58.3L250.7 58.5L255.8 59.5M245.8 58.9L244.4 64.1L244.9 68.6M255.8 58.6L260.9 59.2L266.5 59.8M255.6 58.9L254.6 68.6M266.5 58.0L271.9 59.9L274.0 61.0L277.1 59.3M267.6 58.9L266.8 63.7L265.7 68.6M277.1 60.3L287.8 59.7M275.8 58.9L274.9 64.0L274.6 68.6M287.8 57.8L291.4 57.7L294.6 57.6L297.5 57.7M287.2 58.9L287.4 64.1L287.3 68.6M297.5 58.2L306.2 60.2M298.2 58.9L297.4 63.5L296.2 68.6M306.2 57.9L311.5 57.8L316.7 58.2M305.7 58.9L305.7 68.6M316.7 59.9L319.2 59.5L322.7 58.4L325.2 57.6M316.9 58.9L316.8 63.8L316.7 68.6M325.2 60.1L329.9 59.9L334.0 60.0M325.4 58.9L325.2 61.8L325.1 65.3L325.1 68.6M334.0 58.6L337.2 58.1L339.8 57.6L342.8 57.5M334.6 58.9L335.2 61.6L332.1 68.6M342.8 60.1L344.1 58.4L350.9 60.1L353.3 59.9M342.6 58.9L343.2 60.6L343.7 64.5L344.7 68.6M353.3 57.5L358.5 58.2L363.1 59.2M352.1 58.9L353.1 61.9L354.0 65.2L355.5 68.6M363.1 60.0L365.1 59.1L367.6 58.6L370.1 58.2M362.8 58.9L361.9 64.9L364.7 68.6M370.1 58.7L377.6 60.1M370.3 58.9L372.5 62.0L369.3 65.5L370.6 68.6M377.6 58.8L383.2 58.4L387.4 59.0M377.0 58.9L376.6 63.9L375.4 68.6M387.4 58.0L391.4 58.5L395.0 59.1L398.3 59.3M386.1 58.9L386.8 62.5L386.9 65.7L387.3 68.6M398.3 58.1L401.4 58.1L403.9 58.1L406.7 58.5M397.3 58.9L397.1 62.3L396.2 65.4L396.0 68.6M406.7 59.2L409.0 59.5L411.6 59.1L414.3 58.9M406.1 58.9L407.0 66.5M414.3 59.0L420.2 58.7L425.8 59.0M413.4 58.9L413.8 62.2L414.5 64.3M425.8 59.0L427.8 59.2M425.8 58.9L424.4 63.8M0.0 69.3L5.4 68.9L10.1 68.8L14.8 68.2M1.0 68.6L0.0 70.3M0.0 71.1L1.7 75.1L0.2 80.3M14.8 67.6L20.1 68.0L25.9 68.4M14.9 68.6L15.4 74.6L16.4 80.3M25.9 68.0L37.3 69.9M26.8 68.6L27.5 72.6L27.4 76.8L27.7 80.3M37.3 67.9L50.0 67.8M38.6 68.6L38.6 74.3L37.7 80.3M50.0 69.6L55.2 69.4L60.0 70.2L64.5 70.1M49.8 68.6L51.4 72.6L49.8 80.3M64.5 69.6L78.5 69.0M64.7 68.6L64.4 74.6L64.2 80.3M78.5 69.6L82.0 70.6L87.9 69.4M78.5 68.6L76.3 80.3M87.9 68.6L102.0 67.5M89.1 68.6L88.1 70.5L87.9 77.1L88.5 80.3M102.0 67.8L114.7 69.5M102.2 68.6L100.9 80.3M114.7 69.6L127.4 69.6M113.9 68.6L114.8 72.5L113.8 77.1L116.4 80.3M127.4 68.2L140.3 70.0M127.6 68.6L124.7 70.4L127.5 78.2L124.9 80.3M140.3 69.8L149.6 70.0M140.1 68.6L142.1 80.3M149.6 68.1L152.9 68.0L156.6 68.5L160.4 68.6M150.5 68.6L148.9 80.3M160.4 69.8L173.7 68.2M160.3 68.6L160.5 74.4L158.2 80.3M173.7 70.0L179.8 69.6L185.1 68.7M174.9 68.6L176.6 75.2L174.5 80.3M185.1 69.3L191.2 69.1L197.7 69.4M186.4 68.6L185.5 73.9L184.5 80.3M197.7 68.7L201.7 68.4L206.3 68.2L210.1 67.8M198.9 68.6L200.1 80.3M210.1 68.8L224.9 69.1M211.2 68.6L211.9 71.7L208.5 77.1L209.7 80.3M224.9 67.1L235.5 69.3M225.5 68.6L225.0 72.8L224.1 76.4L223.4 80.3M235.5 68.6L239.5 68.2L243.5 68.0M236.6 68.6L237.5 74.3L235.6 75.1L237.1 80.3M243.5 68.5L250.8 69.4M243.4 68.6L242.8 74.2L242.2 80.3M250.8 67.4L253.5 68.1L255.9 69.1L258.3 69.3M250.2 68.6L249.2 80.3M258.3 67.7L265.4 67.2M257.8 68.6L257.8 72.5L258.0 76.5L257.8 80.3M265.4 67.3L271.1 69.6L274.3 70.0M265.5 68.6L263.8 74.4L266.6 75.7L265.9 80.3M274.3 69.8L281.8 68.7M273.4 68.6L275.2 72.8L273.5 76.0L274.3 80.3M281.8 69.2L285.5 68.1L289.9 68.1M282.6 68.6L281.6 72.8L281.0 76.5L280.1 80.3M289.9 69.0L299.7 69.9M290.0 68.6L290.0 74.3L289.8 80.3M299.7 67.3L303.3 67.2L307.4 67.6L310.9 67.4M300.5 68.6L300.8 74.7L298.2 80.3M310.9 68.6L322.2 69.8M311.8 68.6L310.3 74.6L308.9 80.3M322.2 68.9L327.4 68.5L332.1 67.4M321.9 68.6L322.0 80.3M332.1 69.7L337.4 69.5L342.8 69.9M331.5 68.6L331.7 72.3L332.2 76.7L332.8 80.3M342.8 67.5L347.7 69.0L352.4 69.7M341.9 68.6L341.1 74.0L342.8 74.3L343.4 80.3M352.4 69.0L356.6 68.1L360.0 67.9L363.8 67.2M352.6 68.6L350.2 80.3M363.8 68.2L368.4 70.0L371.0 70.3L373.7 68.6M362.7 68.6L361.9 73.8L364.7 80.3M373.7 69.0L381.8 69.0M374.0 68.6L373.1 72.2L373.1 76.4L372.1 80.3M381.8 68.5L384.8 68.4L387.7 68.0L390.4 67.8M382.7 68.6L383.5 74.7L381.0 80.3M390.4 69.1L394.6 68.4L399.1 68.5M389.4 68.6L390.7 72.6L391.6 76.5L392.2 80.3M399.1 68.2L401.2 68.5L403.3 68.5M398.6 68.6L400.7 72.1L397.2 75.3L397.8 76.6M0.0 80.2L8.0 80.6M0.0 81.0L1.1 82.6L0.5 86.8L0.0 90.5M8.0 79.1L19.8 79.0M6.8 80.3L6.5 85.4L10.4 89.4L9.4 91.6M19.8 80.7L26.4 80.8L33.0 81.4M20.9 80.3L20.6 83.8L20.5 87.6L20.2 91.6M33.0 79.6L39.3 80.4L46.1 80.4M32.3 80.3L32.8 84.2L33.3 87.9L34.2 91.6M46.1 80.6L52.0 80.7L58.2 80.5M45.3 80.3L48.1 91.6M58.2 81.5L64.1 81.3L69.5 80.4M58.7 80.3L57.9 84.4L57.8 88.1L57.1 91.6M69.5 78.8L71.9 78.4L75.8 80.0L79.6 79.7M70.0 80.3L71.5 83.5L73.0 88.6L72.0 91.6M79.6 80.7L91.5 81.7M78.7 80.3L80.5 86.1L82.1 91.6M91.5 80.8L95.5 79.4L102.9 82.1L106.3 81.1M91.4 80.3L91.0 85.9L92.8 91.6M106.3 79.4L112.1 80.8L118.1 81.5M105.1 80.3L103.8 87.9L105.7 91.6M118.1 81.4L127.8 80.3M118.1 80.3L119.7 87.1L118.8 91.6M127.8 80.2L139.7 79.1M127.5 80.3L127.4 84.3L127.9 87.8L128.0 91.6M139.7 80.4L149.1 81.5M139.3 80.3L141.0 91.6M149.1 81.2L156.3 80.9L163.6 81.0M147.8 80.3L147.5 85.9L147.2 91.6M163.6 80.7L175.0 80.8M164.2 80.3L162.2 84.7L163.0 91.6M175.0 79.8L185.3 79.3M174.9 80.3L174.7 86.0L176.1 89.5L177.3 91.6M185.3 79.1L196.2 79.6M186.4 80.3L186.0 85.6L185.2 91.6M196.2 80.0L201.9 79.3L206.0 78.4L209.2 79.7M195.2 80.3L194.5 91.6M209.2 80.6L212.0 80.2L215.6 80.1L218.4 79.6M208.2 80.3L209.0 85.8L210.2 91.6M218.4 79.2L233.4 81.5M219.9 80.3L218.2 86.7L219.7 91.6M233.4 79.0L236.6 79.5L240.5 80.2L243.8 80.6M232.7 80.3L233.4 85.7L234.1 91.6M243.8 80.9L245.8 80.2L248.1 80.6L250.9 79.9M245.1 80.3L243.7 84.0L242.5 91.6M250.9 81.4L255.0 81.3L259.2 80.5M250.0 80.3L249.5 91.6M259.2 80.6L262.3 80.4L265.9 79.9L268.8 79.2M258.4 80.3L259.5 86.2L261.3 91.6M268.8 80.8L271.6 80.2L274.9 80.2L277.5 79.6M268.8 80.3L268.8 84.1L268.8 88.2L269.4 91.6M277.5 81.0L279.7 80.6L282.7 79.3L285.1 78.9M278.9 80.3L278.4 84.0L277.3 87.7L276.8 91.6M285.1 81.6L290.7 81.0L295.5 80.5M285.4 80.3L283.3 91.6M295.5 80.2L299.0 79.9L302.1 80.3L305.8 79.8M294.4 80.3L295.6 91.6M305.8 79.9L315.8 80.7M305.9 80.3L306.6 86.3L307.0 91.6M315.8 81.5L321.1 81.2L325.8 80.5M314.4 80.3L315.2 86.0L316.8 91.6M325.8 80.9L330.8 81.6L336.4 81.7M326.1 80.3L323.6 91.6M336.4 80.8L342.2 80.8L347.2 80.4M336.7 80.3L335.4 83.7L337.0 88.9L334.1 91.6M347.2 79.3L349.8 80.0L353.2 80.7L356.3 81.0M346.5 80.3L346.9 86.3L347.1 91.6M356.3 80.2L361.6 79.6L367.8 78.8M354.8 80.3L354.7 86.0L354.2 91.6M367.8 81.7L372.9 81.0L378.1 79.6M367.4 80.3L368.6 86.2L369.7 91.6M378.1 81.5L386.6 81.1M378.2 80.3L378.9 83.9L379.1 88.2L379.2 91.6M386.6 79.6L395.8 80.3M387.9 80.3L388.0 83.7L388.1 88.3L387.9 90.7M0.0 89.9L0.9 89.6L5.6 92.5L8.4 91.5M8.4 92.5L11.7 93.7L18.1 91.5L21.2 90.8M7.7 91.6L7.3 95.1L6.4 99.0L6.3 102.4M21.2 91.1L32.7 90.3M21.2 91.6L23.6 98.7L23.2 102.4M32.7 90.6L39.6 91.4L46.1 91.9M32.8 91.6L33.2 102.4M46.1 90.7L59.0 90.9M47.2 91.6L47.4 96.7L48.4 102.4M59.0 91.3L63.5 90.9L68.3 90.6M60.1 91.6L59.6 102.4M68.3 90.7L72.1 90.4L75.2 90.2L78.6 90.5M68.3 91.6L69.1 102.4M78.6 91.7L84.2 92.8L92.2 92.4M78.5 91.6L79.1 97.0L79.8 102.4M92.2 92.5L96.3 91.9L100.4 91.5L104.1 91.6M92.3 91.6L91.8 95.1L92.0 98.7L91.5 102.4M104.1 93.1L115.7 92.0M105.0 91.6L105.4 95.6L102.9 100.3L105.1 102.4M115.7 92.2L119.8 91.8L124.4 92.2L128.3 91.9M114.7 91.6L113.9 95.2L114.1 99.1L113.5 102.4M128.3 90.9L132.7 90.4L137.0 90.5L141.4 90.3M128.0 91.6L128.0 102.4M141.4 92.9L148.5 93.0L155.2 92.7M141.0 91.6L139.1 102.4M155.2 90.3L158.8 90.4L162.6 91.0L165.7 91.6M155.7 91.6L154.7 102.4M165.7 90.7L179.3 90.5M166.6 91.6L164.2 102.4M179.3 91.3L185.6 91.1L189.7 92.6L191.9 92.8M179.4 91.6L180.5 97.2L181.7 102.4M191.9 91.2L199.3 91.1L206.7 90.7M191.0 91.6L191.7 95.6L192.3 98.8L193.3 102.4M206.7 90.7L211.9 91.2L216.7 92.0M205.4 91.6L205.3 102.4M216.7 93.0L222.1 91.7L227.4 90.8M217.1 91.6L218.2 96.9L218.8 102.4M227.4 92.3L237.1 91.7M227.7 91.6L226.4 97.1L225.3 102.4M237.1 92.4L242.6 92.2L248.3 91.7M236.6 91.6L239.1 96.8L238.3 98.6L238.3 102.4M248.3 92.9L258.9 92.8M247.7 91.6L247.1 98.5L249.6 102.4M258.9 92.9L264.5 91.8L269.5 91.2M258.1 91.6L260.7 93.6L257.9 97.6L260.2 102.4M269.5 92.5L273.8 92.6L277.8 92.7M268.6 91.6L269.6 96.9L271.6 102.4M277.8 92.7L280.2 92.1L282.4 91.7L284.9 91.8M277.7 91.6L279.3 102.4M284.9 91.9L288.2 91.5L292.0 91.4M283.6 91.6L284.8 102.4M292.0 93.1L294.9 92.7L298.3 92.5L301.9 92.3M290.7 91.6L290.9 96.9L290.8 102.4M301.9 92.1L304.8 92.6L307.8 92.8L311.2 92.8M300.8 91.6L300.5 97.2L300.5 102.4M311.2 90.6L314.7 90.9L318.9 91.2L322.6 91.0M311.9 91.6L310.5 96.7L308.8 102.4M322.6 90.5L327.5 90.8L332.0 90.9M321.3 91.6L322.8 102.4M332.0 92.5L334.1 92.0L336.5 91.2L339.1 90.9M331.8 91.6L331.1 97.3L330.2 102.4M339.1 90.2L342.8 90.8L347.3 92.1M338.5 91.6L340.4 97.3L338.7 99.1L339.7 102.4M347.3 93.1L355.4 92.0M346.3 91.6L346.6 95.2L347.1 98.9L347.6 102.4M355.4 92.9L358.7 92.1L362.8 91.3L365.9 90.6M356.5 91.6L357.5 102.4M365.9 92.0L370.7 91.5L376.0 91.1M365.0 91.6L363.4 97.1L364.3 102.4M376.0 92.7L381.6 92.3L386.1 92.2M377.2 91.6L376.3 98.1M0.0 101.5L0.3 101.5L4.4 101.1L8.1 101.6M8.1 102.8L12.5 102.4L17.2 102.1L21.2 102.2M7.4 102.4L7.5 104.8L8.2 107.4L8.6 110.4M21.2 103.4L30.7 101.7M21.3 102.4L21.6 106.4L22.6 110.4M30.7 102.7L41.6 101.7M30.1 102.4L31.7 106.6L32.5 110.4M41.6 103.5L47.1 102.7L53.2 101.4M42.9 102.4L42.9 104.7L42.5 107.4L42.3 110.4M53.2 102.1L56.8 102.2L61.0 102.6L64.8 102.3M51.8 102.4L54.5 110.4M64.8 101.0L74.2 101.5M65.3 102.4L64.9 104.8L64.4 107.8L63.8 110.4M74.2 103.9L88.4 102.3M74.5 102.4L75.6 106.3L76.5 110.4M88.4 102.8L91.9 102.7L94.6 103.2L98.3 103.3M88.8 102.4L86.3 110.4M98.3 101.2L103.4 104.0L111.5 103.2M96.9 102.4L98.3 106.5L100.4 110.4M111.5 102.0L115.7 102.5L119.8 102.7L124.0 103.5M110.4 102.4L110.5 106.0L110.8 110.4M124.0 101.3L136.8 103.7M125.2 102.4L124.4 106.7L123.4 110.4M136.8 103.5L141.8 102.7L147.2 101.5M137.6 102.4L135.3 110.4M147.2 102.3L148.4 101.1L154.3 100.6L157.5 101.6M147.1 102.4L149.2 106.2L146.2 109.9L147.0 110.4M157.5 103.1L167.1 102.9M158.1 102.4L157.6 110.4M167.1 101.6L179.6 103.0M165.6 102.4L168.0 110.4M179.6 101.6L185.0 101.8L190.5 102.6M178.4 102.4L178.7 105.3L178.6 108.0L178.9 110.4M190.5 103.0L202.3 101.5M189.5 102.4L190.2 105.4L191.2 107.9L191.9 110.4M202.3 102.5L213.4 102.9M202.7 102.4L203.7 105.9L203.1 105.6L200.7 110.4M213.4 101.7L225.2 103.6M212.9 102.4L212.1 106.2L211.5 110.4M225.2 103.4L235.2 102.1M224.2 102.4L222.8 106.2L225.2 110.4M235.2 101.5L246.6 102.7M235.9 102.4L234.7 106.0L234.4 110.4M246.6 102.6L251.8 102.7L256.7 102.0M245.6 102.4L244.6 110.4M256.7 101.1L264.8 103.5M255.6 102.4L255.0 110.4M264.8 101.7L269.8 102.0L275.1 102.9M265.7 102.4L266.1 105.4L266.6 108.0L267.2 110.4M275.1 101.2L278.5 102.3L281.9 102.9L285.1 103.5M275.7 102.4L275.3 105.4L275.2 108.0L275.2 110.4M285.1 101.7L287.5 101.4L290.2 100.9L292.9 101.0M285.7 102.4L283.4 110.4M292.9 101.8L293.8 103.2L298.6 102.7L301.0 102.1M292.1 102.4L291.3 110.4M301.0 101.5L304.2 102.0L308.0 102.0L311.7 102.6M300.0 102.4L301.6 104.3L300.9 105.8L301.7 110.4M311.7 103.8L314.0 105.6L320.2 103.6M310.5 102.4L313.3 110.4M320.2 101.6L324.5 104.1L328.0 102.8M320.4 102.4L320.2 105.2L319.7 107.4L319.0 110.4M328.0 103.2L335.4 103.8M327.1 102.4L327.4 105.0L327.2 107.4L327.2 110.4M335.4 102.3L344.4 103.8M334.3 102.4L333.0 110.4M344.4 102.1L350.0 103.2L354.9 103.8M344.3 102.4L344.0 105.2L343.7 108.0L343.4 110.4M354.9 103.4L366.2 103.0M355.7 102.4L354.7 106.2L353.7 110.4M366.2 103.3L366.7 103.2M365.8 102.4L365.9 103.8M1.6 111.8L14.8 111.0M0.5 110.4L0.7 114.3L0.8 118.1L1.1 121.9M14.8 110.7L28.4 109.7M15.8 110.4L13.9 113.1L13.9 117.2L13.4 121.9M28.4 111.3L34.4 110.2L39.8 108.9M27.5 110.4L27.3 114.5L26.9 118.3L26.5 121.9M39.8 109.9L45.8 109.5L52.7 109.4M39.4 110.4L39.1 121.9M52.7 111.9L65.3 111.5M53.3 110.4L51.9 115.9L54.2 116.7L51.4 121.9M65.3 109.4L70.4 110.5L75.0 111.9M65.1 110.4L67.5 117.3L66.4 121.9M75.0 111.1L83.8 110.0L89.3 111.5M73.8 110.4L74.8 114.5L75.1 118.1L76.3 121.9M89.3 109.3L94.3 109.4L98.5 110.0M90.1 110.4L88.6 116.3L86.9 121.9M98.5 109.3L105.0 110.1L111.8 110.3M98.0 110.4L98.6 114.3L99.3 117.8L99.8 121.9M111.8 110.0L118.7 110.1L125.6 110.4M111.2 110.4L109.6 121.9M125.6 111.4L130.9 112.8L140.5 111.5M126.4 110.4L125.4 116.1L125.0 121.9M140.5 109.9L144.7 110.5L149.6 110.6M141.6 110.4L140.9 113.9L140.7 118.0L139.9 121.9M149.6 109.1L155.1 110.4L162.5 109.0M151.0 110.4L149.8 114.6L148.7 118.5L148.1 121.9M162.5 110.6L167.7 109.9L172.1 109.3M161.6 110.4L159.2 114.5L162.9 119.4L160.2 121.9M172.1 110.2L173.8 112.0L178.1 111.3L183.4 110.3M170.9 110.4L171.8 121.9M183.4 111.3L187.6 111.1L194.7 111.7L197.8 109.0M182.8 110.4L185.0 121.9M197.8 109.3L202.3 109.0L207.0 108.8L212.1 109.1M198.3 110.4L199.1 121.9M212.1 110.2L219.1 110.1L225.8 109.3M213.6 110.4L215.9 113.4L215.9 116.1L214.0 121.9M225.8 110.5L227.0 109.5L230.5 109.8L235.9 109.7M224.6 110.4L223.5 121.9M235.9 110.1L240.4 110.0L245.0 109.5M236.7 110.4L235.3 116.7L235.1 121.9M245.0 109.6L252.3 109.4M243.7 110.4L244.5 121.9M252.3 109.4L256.8 110.4L261.3 111.7M253.0 110.4L252.9 116.5L252.5 121.9M261.3 109.1L269.9 110.8M261.4 110.4L262.8 121.9M269.9 110.7L280.5 110.7M270.5 110.4L267.8 121.9M280.5 109.5L284.4 109.7L289.0 110.1M280.5 110.4L278.3 121.9M289.0 109.4L299.5 109.7M288.3 110.4L290.4 115.8L288.3 121.9M299.5 111.7L304.2 110.7L308.5 109.6M298.7 110.4L298.3 121.9M308.5 110.1L319.6 109.1M307.5 110.4L307.4 114.3L307.5 117.7L308.0 121.9M319.6 110.9L322.2 110.6L325.5 111.2L328.0 110.9M318.4 110.4L319.2 116.1L319.6 121.9M328.0 109.8L330.6 110.3L332.6 110.6L335.3 110.9M327.9 110.4L328.6 116.1L329.1 121.9M335.3 110.0L339.6 108.4L343.8 109.3L346.6 110.4M334.7 110.4L335.6 121.9M346.6 110.7L349.1 110.8L352.2 110.5L354.7 110.9M346.4 110.4L345.1 116.1L345.2 116.2L346.6 121.9M354.7 109.3L360.1 110.2M354.4 110.4L354.6 119.6M3.4 120.8L9.8 122.2L15.4 123.1M3.9 121.9L4.2 125.9L4.4 129.6L4.9 133.3M15.4 122.8L27.4 123.4M14.1 121.9L14.4 127.5L14.3 133.3M27.4 121.4L34.5 122.3L41.7 122.9M26.1 121.9L27.0 133.3M41.7 121.5L47.7 123.2L52.6 122.7M42.6 121.9L41.8 133.3M52.6 120.6L65.0 122.0M51.8 121.9L50.9 133.3M65.0 120.7L69.2 121.5L73.5 122.1L77.5 123.3M65.8 121.9L67.4 124.8L66.1 129.7L67.2 133.3M77.5 120.5L80.6 120.6L84.1 120.4L87.8 120.9M76.2 121.9L77.8 127.4L79.7 133.3M87.8 120.5L94.9 121.6L101.7 123.2M89.3 121.9L85.4 133.3M101.7 122.5L108.4 122.3L115.0 122.3M101.7 121.9L100.1 124.8L100.8 130.6L101.1 133.3M115.0 123.4L124.4 120.7M115.3 121.9L113.3 126.6L114.1 133.3M124.4 122.9L136.0 121.8M123.8 121.9L124.5 126.2L122.2 128.6L122.0 133.3M136.0 123.2L140.7 123.3L145.1 122.4L149.7 122.5M135.6 121.9L135.3 133.3M149.7 121.2L161.6 120.5M149.3 121.9L149.0 127.2L148.5 133.3M161.6 121.3L168.5 121.6L175.1 122.1M160.1 121.9L161.4 127.9L162.5 133.3M175.1 121.3L180.3 122.7L186.9 122.9L189.6 122.3M174.6 121.9L175.3 126.1L176.8 129.5L177.5 133.3M189.6 122.0L193.1 122.2L196.0 122.6L199.7 123.1M190.8 121.9L189.5 125.5L188.3 129.4L187.2 133.3M199.7 120.8L206.2 121.6L213.2 121.7M199.6 121.9L200.5 127.8L201.2 133.3M213.2 121.7L225.8 122.9M212.1 121.9L213.5 127.8L215.6 133.3M225.8 122.4L235.8 121.6M227.2 121.9L226.2 125.7L225.5 129.2L224.2 133.3M235.8 122.3L240.1 122.7L244.7 122.8M235.5 121.9L235.1 133.3M244.7 122.2L248.6 122.4L252.4 122.4L256.0 122.9M246.0 121.9L244.9 126.7L246.5 133.3M256.0 123.2L265.6 120.8M255.3 121.9L255.3 125.9L258.4 133.3M265.6 123.3L275.8 121.2M266.6 121.9L265.8 125.8L264.6 129.2L263.1 133.3M275.8 122.4L277.9 120.8L284.3 120.5M274.4 121.9L274.6 127.4L274.9 133.3M284.3 122.4L291.7 123.3M284.2 121.9L283.2 126.0L283.1 129.6L282.2 133.3M291.7 122.6L294.3 123.1L296.9 123.1L299.7 123.0M293.0 121.9L293.4 133.3M299.7 121.2L305.1 120.3L310.3 120.6M298.4 121.9L299.1 125.7L300.6 129.2L301.3 133.3M310.3 121.8L313.6 121.8L316.8 121.7L319.9 122.1M309.4 121.9L310.0 127.1L310.5 131.0L309.0 133.3M319.9 121.9L325.6 119.9L327.4 121.0M318.8 121.9L319.3 126.0L320.5 129.9L320.9 133.3M327.4 121.2L331.5 122.3L335.4 122.8M327.9 121.9L327.1 127.5L325.8 133.3M335.4 121.6L342.5 122.9M334.9 121.9L336.2 127.7L336.9 133.3M342.5 121.0L352.9 122.9M342.9 121.9L341.7 125.8L341.4 129.4L340.3 133.3M351.8 121.9L352.0 124.6M0.1 133.5L7.5 134.4L13.3 133.6M1.2 133.3L0.6 137.5L0.0 139.4M13.3 132.8L15.8 132.2L19.5 131.2L23.2 132.7M14.7 133.3L15.0 137.5L11.5 140.4L12.4 141.5M23.2 133.5L26.4 132.3L30.7 133.5L36.3 134.3M22.6 133.3L21.1 137.6L20.7 141.5M36.3 133.1L41.2 132.8L46.0 132.5M36.9 133.3L36.7 137.6L34.0 141.5M46.0 132.0L58.4 134.2M46.8 133.3L46.2 135.8L44.9 141.5M58.4 132.8L64.1 133.3L66.3 134.7L71.5 133.9M58.7 133.3L57.9 136.1L57.9 138.6L57.2 141.5M71.5 134.1L77.3 133.6L83.4 133.0M71.2 133.3L72.1 135.7L72.6 138.6L73.2 141.5M83.4 132.7L86.7 132.9L89.6 132.2L92.9 132.1M84.8 133.3L83.2 137.2L81.9 141.5M92.9 133.6L97.7 133.4L101.8 132.8L106.2 132.4M92.4 133.3L93.0 137.5L92.9 141.5M106.2 134.4L112.9 133.4L119.8 131.9M106.0 133.3L105.4 136.4L105.2 138.9L105.2 141.5M119.8 132.8L126.8 132.9L134.1 133.6M119.2 133.3L119.9 137.6L120.4 141.5M134.1 134.0L143.6 133.0M134.0 133.3L134.2 141.5M143.6 132.1L156.2 133.7M143.4 133.3L144.9 137.6L145.6 141.5M156.2 134.5L159.8 134.1L163.6 133.1L166.9 133.0M155.7 133.3L157.4 141.5M166.9 131.8L171.4 132.0L176.5 131.7L180.7 131.9M166.0 133.3L167.2 137.3L168.8 141.5M180.7 132.2L186.3 132.2L192.3 132.5M179.2 133.3L180.9 137.4L181.9 141.5M192.3 132.0L197.5 133.5L202.3 134.4M193.6 133.3L192.4 136.4L191.9 138.7L190.8 141.5M202.3 133.6L215.5 132.8M201.2 133.3L201.9 136.0L201.8 138.7L202.6 141.5M215.5 133.3L225.3 134.3M214.4 133.3L217.1 141.5M225.3 134.4L231.2 133.6L236.6 132.3M225.9 133.3L227.1 137.0L225.9 141.5M236.6 132.4L239.2 132.7L241.6 132.3L244.7 132.8M238.0 133.3L237.2 136.4L237.3 138.9L236.4 141.5M244.7 133.2L249.8 133.5L255.0 134.2M245.8 133.3L247.0 141.5M255.0 134.6L257.6 134.3L260.6 134.9L262.9 134.8M253.9 133.3L254.9 137.5L255.4 141.5M262.9 132.6L273.1 132.3M261.7 133.3L262.2 135.7L262.2 139.0L262.8 141.5M273.1 132.4L283.3 134.3M272.5 133.3L273.7 136.1L273.9 138.8L275.1 141.5M283.3 132.1L286.0 132.5L288.2 132.4L290.5 132.5M283.3 133.3L282.7 136.3L282.2 139.2L281.9 141.5M290.5 132.0L294.5 132.6L298.8 132.9M289.8 133.3L288.8 137.1L288.7 141.5M298.8 132.7L301.8 132.7L305.1 132.7L308.6 132.4M299.7 133.3L299.1 141.5M308.6 134.6L311.6 134.1L317.3 132.0M308.0 133.3L305.6 137.8L306.6 141.5M317.3 133.9L320.4 133.3L322.9 133.5L326.2 132.7M316.1 133.3L315.9 141.5M326.2 132.2L329.7 132.3L334.1 134.4M325.8 133.3L325.5 137.1L324.1 136.8L324.9 141.5M334.1 133.4L337.6 132.8L341.3 133.0L344.5 132.9M333.0 133.3L335.4 141.5M344.5 132.0L348.8 131.0L348.8 131.0M344.2 133.3L344.1 135.4L345.4 137.8M3.7 142.9L10.6 142.9L18.1 142.3M4.9 141.5L4.0 145.3L2.2 148.1L1.5 151.9M18.1 142.6L29.9 141.9M19.1 141.5L20.6 145.3L19.8 147.8L18.1 151.9M29.9 142.2L36.9 142.7L40.8 140.6M30.0 141.5L30.5 145.1L30.7 148.5L31.6 151.9M40.8 142.1L45.9 142.6L51.2 143.8L55.2 142.2M42.1 141.5L40.5 146.9L38.7 151.9M55.2 142.0L59.1 142.3L63.1 142.2L67.0 142.5M54.0 141.5L57.1 151.9M67.0 141.6L67.9 143.1L72.2 140.0L76.0 141.1M68.4 141.5L68.7 145.0L68.4 148.4L68.5 151.9M76.0 141.0L90.1 142.1M76.1 141.5L75.3 145.1L74.9 148.3L73.9 151.9M90.1 143.0L102.5 141.9M89.9 141.5L89.1 147.7L91.8 151.9M102.5 141.3L104.6 141.7L110.2 140.1L114.1 140.8M102.1 141.5L102.1 144.9L102.4 148.5L102.7 151.9M114.1 142.6L117.7 142.7L121.2 142.3L125.1 142.6M115.4 141.5L115.6 151.9M125.1 140.1L129.4 141.2L134.5 141.7L139.2 142.2M124.1 141.5L123.9 145.3L123.2 148.3L122.6 151.9M139.2 141.7L148.7 140.5M139.8 141.5L137.5 151.9M148.7 142.4L153.4 142.1L158.1 141.7M148.1 141.5L148.8 151.9M158.1 141.6L162.7 141.5L166.7 141.9L171.0 141.9M158.8 141.5L158.1 151.9M171.0 141.0L181.8 142.1M170.3 141.5L170.3 144.7L172.8 147.7L172.5 151.9M181.8 140.2L191.5 142.9M182.3 141.5L182.5 145.3L183.1 148.3L183.9 151.9M191.5 141.6L206.3 140.4M191.9 141.5L191.2 145.0L190.8 148.1L190.6 151.9M206.3 142.9L220.8 141.9M205.9 141.5L205.8 144.6L205.8 148.4L205.6 151.9M220.8 141.6L233.9 141.9M219.8 141.5L223.2 151.9M233.9 142.4L236.5 142.3L239.7 141.8L242.7 141.3M234.4 141.5L234.5 146.7L234.2 151.9M242.7 140.9L250.8 142.6M243.8 141.5L241.9 151.9M250.8 141.9L254.8 142.2L257.6 143.6L258.5 142.6M250.0 141.5L250.0 146.9L249.6 151.9M258.5 142.8L263.8 140.8L268.8 142.0M258.6 141.5L258.8 151.9M268.8 140.5L272.1 141.3L274.9 141.1L278.0 141.7M269.0 141.5L268.0 146.8L266.8 151.9M278.0 142.7L287.3 140.9M276.5 141.5L276.3 146.7L276.1 151.9M287.3 141.3L290.3 141.3L292.5 140.8L295.4 141.2M286.9 141.5L287.0 151.9M295.4 142.4L301.1 142.4L306.4 142.9M295.7 141.5L296.4 144.7L295.3 151.9M306.4 140.7L311.1 141.1L316.0 141.1M307.8 141.5L306.7 146.5L305.8 151.9M316.0 140.3L317.7 143.3L324.2 143.8L325.8 142.9M314.8 141.5L316.2 146.6L318.4 151.9M325.8 142.3L332.0 144.0L336.1 141.7M325.2 141.5L325.2 146.5L325.2 151.9M336.1 142.8L343.2 142.4M336.7 141.5L335.4 146.6L334.5 151.9M0.0 151.5L8.8 150.9M8.8 151.1L23.6 152.3M8.3 151.9L7.9 159.5M23.6 153.1L27.6 152.1L32.2 151.0L36.5 150.5M22.6 151.9L24.2 155.1L22.8 159.5M36.5 150.4L43.6 150.7L51.1 151.4M37.6 151.9L36.6 154.3L35.4 157.0L34.7 159.5M51.1 151.9L55.5 151.4L59.5 151.4L64.2 151.2M52.4 151.9L50.7 159.5M64.2 151.0L68.5 151.3L72.6 151.0L76.9 151.1M63.6 151.9L66.5 159.5M76.9 152.0L90.6 151.4M75.8 151.9L78.3 159.5M90.6 150.9L100.8 152.2M91.3 151.9L91.5 154.0L91.9 157.2L92.7 159.5M100.8 151.5L111.2 150.9M99.9 151.9L99.4 155.8L99.2 159.5M111.2 153.2L115.9 153.4L121.3 153.0M109.8 151.9L109.7 154.7L110.2 157.3L110.0 159.5M121.3 150.5L124.4 150.3L127.1 150.8L130.4 151.0M122.4 151.9L121.3 154.2L120.2 156.6L119.4 159.5M130.4 152.1L134.1 151.4L138.0 151.1L142.4 150.8M130.9 151.9L131.7 154.9L130.4 156.6L131.7 159.5M142.4 150.8L147.5 151.1L152.4 150.7L157.2 150.9M141.0 151.9L142.8 156.1L143.9 159.5M157.2 151.4L161.8 150.6L167.1 152.6L169.6 151.9M157.6 151.9L155.8 159.5M169.6 152.7L173.3 152.7L176.4 153.4L179.7 153.2M170.6 151.9L171.2 154.6L171.7 156.6L171.7 159.5M179.7 150.8L184.3 151.2L189.2 152.3L194.0 152.7M179.8 151.9L181.7 159.5M194.0 152.3L207.8 153.1M193.9 151.9L193.0 159.5M207.8 150.6L219.5 152.7M206.7 151.9L207.2 155.3L207.2 159.5M219.5 152.6L222.5 152.7L225.7 152.2L228.5 152.2M219.8 151.9L220.3 154.8L220.3 157.0L221.0 159.5M228.5 152.7L233.3 151.8L238.6 151.4M229.8 151.9L227.7 156.9L228.0 159.5M238.6 152.2L249.1 152.4M238.8 151.9L241.1 159.5M249.1 152.6L254.3 152.3L259.5 152.9M248.3 151.9L248.6 154.7L248.4 156.8L248.9 159.5M259.5 151.3L265.3 151.9L270.5 152.6M259.9 151.9L257.9 159.5M270.5 151.5L275.3 151.7L280.5 152.4M269.7 151.9L269.0 159.5M280.5 150.5L291.8 151.1M281.5 151.9L279.2 155.2L278.7 159.5M291.8 150.5L296.9 151.0L302.6 150.9M291.3 151.9L290.0 154.6L293.0 159.5M302.6 153.0L306.5 152.7L309.8 152.7L313.9 152.4M302.6 151.9L301.4 159.5M313.9 153.1L317.3 152.8L321.3 152.2M314.7 151.9L314.2 156.0L313.4 159.5M321.3 151.2L323.9 151.8L326.2 151.6L328.6 152.0M322.3 151.9L322.3 154.1L323.1 157.3L323.3 159.5M328.6 151.8L333.7 152.0L338.6 152.4M327.6 151.9L326.6 155.4L326.2 159.5M338.6 150.9L339.5 151.3M338.0 156.9L337.8 157.4L336.8 159.5M3.7 158.8L9.3 158.7L15.4 158.0M4.9 159.5L4.4 163.5L3.3 167.5M15.4 159.6L25.5 160.0M16.2 159.5L15.9 161.8L15.8 165.1L15.7 167.5M25.5 160.2L30.0 161.5L34.5 159.5L39.5 159.3M24.2 159.5L26.4 167.5M39.5 159.5L53.3 160.0M40.6 159.5L40.3 164.9L37.3 167.5M53.3 159.9L57.4 160.3L62.1 160.4L66.1 160.9M53.8 159.5L52.9 167.5M66.1 159.4L77.7 158.8M65.5 159.5L67.2 167.5M77.7 160.1L83.3 159.2L89.7 158.9M79.0 159.5L77.9 163.2L76.8 167.5M89.7 158.2L94.5 158.6L98.8 158.3L103.1 158.3M90.4 159.5L90.9 167.5M103.1 159.1L107.1 159.4L111.1 159.0L114.7 158.7M101.6 159.5L105.1 167.5M114.7 159.7L118.1 159.1L122.1 159.1L125.4 158.3M115.5 159.5L114.6 167.5M125.4 160.9L134.5 158.2M125.1 159.5L126.3 160.7L125.4 166.5L125.6 167.5M134.5 160.1L141.9 160.1L148.8 160.1M135.9 159.5L136.0 163.3L136.0 167.5M148.8 160.3L154.3 160.2L160.4 160.9M148.7 159.5L148.3 163.8L146.9 163.5L148.2 167.5M160.4 160.1L167.5 159.3L173.5 158.9M161.8 159.5L160.9 162.3L159.4 165.2L158.3 167.5M177.6 159.1L181.5 159.4L188.2 160.0M188.2 158.6L199.3 158.2M189.1 159.5L187.9 162.8L186.1 167.5M199.3 160.6L211.8 160.2M199.2 159.5L200.1 162.2L201.0 164.6L201.5 167.5M211.8 160.0L226.2 158.1M213.1 159.5L213.1 162.2L212.6 164.5L212.1 167.5M226.2 160.3L231.6 159.7L236.4 158.2M227.6 159.5L227.5 163.8L226.7 166.1L225.3 167.5M236.4 158.4L239.3 158.6L241.8 159.3L244.5 159.3M236.0 159.5L236.7 161.8L237.5 164.9L237.9 167.5M244.5 160.4L247.4 160.8L249.5 160.2L252.0 160.4M245.5 159.5L242.5 163.8L242.7 167.5M252.0 161.0L260.9 159.0M252.9 159.5L252.3 162.5L251.9 164.6L251.6 167.5M260.9 159.3L266.6 158.7L271.7 158.6M259.7 159.5L260.3 163.6L261.5 167.5M271.7 160.6L279.2 159.3M271.1 159.5L271.4 163.6L271.9 167.5M279.2 159.1L284.4 159.6L289.7 159.7M277.8 159.5L277.8 163.5L277.1 167.5M289.7 158.3L294.9 159.6L300.2 160.0M291.1 159.5L288.4 167.5M300.2 158.1L305.3 159.4L310.1 160.6M301.4 159.5L298.0 167.5M310.1 159.6L314.8 159.4L320.1 159.2M309.4 159.5L311.0 167.5M320.1 160.7L322.4 162.1L323.0 159.4L327.4 159.4M319.9 159.5L320.3 167.5M327.4 159.8L337.8 160.6M327.0 159.5L324.4 162.5L324.6 165.6L325.4 167.5M338.0 162.1L337.5 163.7L336.8 167.5M0.0 168.6L1.3 168.6L6.9 168.0M6.9 167.3L14.3 166.3L20.9 167.6M6.9 167.5L5.5 172.3L4.4 176.4M20.9 166.5L32.9 166.5M20.2 167.5L19.9 170.6L19.2 173.8L19.1 176.4M32.9 167.5L47.0 168.9M32.8 167.5L31.8 171.6L31.4 176.4M47.0 168.0L52.1 167.6L57.2 167.9M46.9 167.5L46.0 176.4M57.2 166.1L69.6 166.5M58.7 167.5L58.3 170.5L58.0 173.5L58.0 176.4M69.6 166.8L77.5 167.2L81.8 167.8M69.0 167.5L66.9 173.2L68.5 176.4M81.8 166.8L86.4 167.4L90.2 168.0L94.9 168.1M82.6 167.5L81.8 171.9L81.5 176.4M94.9 168.2L107.5 168.1M96.0 167.5L97.1 170.4L96.7 174.7L96.5 176.4M107.5 168.9L119.9 166.3M106.5 167.5L105.6 176.4M119.9 167.5L129.8 166.7M119.9 167.5L118.5 176.4M129.8 167.0L133.0 167.4L135.9 167.6L139.3 168.2M129.3 167.5L128.3 171.7L127.9 176.4M139.3 166.0L148.6 167.8M137.8 167.5L138.4 170.1M149.4 166.3L160.1 167.8M160.1 166.3L170.9 169.0M160.8 167.5L160.8 168.7M170.9 168.7L172.3 168.6M178.1 167.8L184.1 167.0M171.8 167.5L172.1 170.0M184.1 168.0L189.9 168.6L195.3 168.7M184.3 167.5L182.5 171.9M195.3 168.7L207.0 168.2M194.1 167.5L194.2 169.9M207.0 166.0L214.2 166.9L221.0 167.1M206.2 167.5L206.4 168.3M221.0 168.1L228.1 168.6L235.1 168.5M220.7 167.5L220.5 168.5M235.1 168.7L239.7 167.3L243.5 166.5M233.7 167.5L233.9 171.7L234.2 176.2M243.5 168.7L245.9 168.6L248.6 168.5L251.4 168.1M244.9 167.5L244.9 170.8L243.9 173.5L244.0 176.4M251.4 166.7L262.0 167.7M250.5 167.5L250.9 176.4M262.0 166.9L264.8 168.5L269.3 168.1L272.5 168.6M260.6 167.5L260.9 170.6L261.2 173.4L261.1 176.4M272.5 168.7L275.2 168.3L277.2 168.0L279.6 168.1M272.4 167.5L272.4 170.5L271.8 173.4L271.9 176.4M279.6 169.0L283.2 169.1L286.7 168.4L290.5 168.5M279.8 167.5L277.3 176.4M290.5 168.2L293.4 168.0L296.2 168.5L299.0 168.1M290.1 167.5L289.9 170.6L289.3 173.8L288.8 176.4M299.0 168.9L304.6 168.4L309.7 167.8M297.5 167.5L298.9 176.4M309.7 168.2L317.3 166.0M309.1 167.5L308.2 170.2L308.9 174.5L310.9 176.4M317.3 168.6L326.4 167.6M316.9 167.5L319.3 176.4M326.4 168.4L330.4 168.2L334.3 167.7M325.3 167.5L325.1 171.7L324.5 176.4M334.3 167.6L338.3 167.5L338.9 167.5M334.7 167.5L334.3 171.7L334.4 176.4M0.0 176.6L7.4 175.2M7.4 175.0L21.0 176.5M8.3 176.4L8.7 179.3L9.3 181.5L9.7 184.6M21.0 176.1L31.9 177.0M19.9 176.4L20.7 178.8L22.1 181.7L23.3 184.6M31.9 175.2L42.5 177.3M31.2 176.4L29.9 184.6M42.5 177.9L49.2 178.9L56.7 175.8M42.7 176.4L41.8 178.7L42.0 179.9L41.2 184.6M56.7 174.9L69.0 175.9M55.6 176.4L58.5 180.6L56.7 184.1L59.1 184.6M69.0 177.3L74.2 177.0L79.2 176.1M68.4 176.4L69.6 184.6M79.2 177.4L84.1 177.5L89.7 177.5M79.4 176.4L77.8 184.6M89.7 175.3L95.6 177.1L103.5 175.7M89.0 176.4L88.8 179.2L88.7 182.3L88.2 184.6M103.5 176.3L108.7 176.6L113.0 177.0L117.9 177.8M102.5 176.4L102.4 179.1L103.3 182.0L103.1 184.6M117.9 176.1L121.5 176.2L123.9 176.4L127.5 176.3M117.2 176.4L115.3 178.9L118.5 182.8L116.7 184.6M127.5 174.9L136.1 175.9M127.8 176.4L128.2 180.2L128.0 184.6M139.5 180.7L141.0 184.6M236.7 178.4L237.3 178.5L240.1 175.7L243.0 176.3M243.0 176.0L248.4 176.6L253.3 176.4M242.2 176.4L245.0 184.6M253.3 176.5L262.7 175.6M252.2 176.4L255.4 181.5L254.5 184.6M262.7 176.6L269.8 177.1M263.5 176.4L263.8 180.2M269.8 177.0L272.3 176.7L275.0 176.3L277.2 176.5M269.2 176.4L268.7 177.4M277.2 175.5L279.0 174.6L283.0 177.5L285.9 176.5M277.9 176.4L277.9 179.4L277.9 179.6M285.9 175.7L288.0 175.7L290.7 176.4L293.2 176.8M285.5 176.4L284.8 180.3L284.3 184.1M293.2 177.8L295.8 177.7L298.4 176.9L300.9 176.9M292.2 176.4L293.0 184.6M300.9 176.5L304.4 177.5L308.0 177.8M300.8 176.4L301.9 180.7L302.5 184.6M308.0 176.9L311.5 176.2L315.0 176.1L318.1 175.8M308.2 176.4L308.9 179.3L309.6 182.1L309.8 184.6M318.1 175.6L323.2 175.8L328.8 176.6M316.8 176.4L316.0 181.3L317.3 181.1L316.8 184.6M328.8 175.1L334.1 176.6L340.0 177.7M328.8 176.4L328.4 184.6M340.0 177.5L341.2 177.4M340.3 176.4L339.4 182.3L337.7 184.6M0.0 185.3L9.7 183.5M9.7 183.7L20.1 185.8M11.1 184.6L11.1 190.4L11.6 195.4M20.1 184.1L32.6 183.8M18.9 184.6L18.5 192.2M32.6 184.8L38.4 183.9L43.5 183.3M32.7 184.6L33.5 188.1M43.5 184.6L49.8 182.9L54.9 183.9M43.9 184.6L43.4 187.5M54.9 184.4L58.9 185.3L62.5 185.5L66.3 186.0M54.0 184.6L54.2 190.2L54.2 190.4M66.3 185.4L67.3 184.5L71.4 185.3L75.5 183.8M66.6 184.6L64.8 187.9L66.5 194.3M75.5 184.5L79.3 184.6L83.3 184.8L87.1 185.4M74.9 184.6L75.0 185.1M87.1 184.0L92.7 183.5L98.5 183.4M88.0 184.6L87.7 189.7M98.5 186.1L106.2 184.4L110.7 185.7M97.8 184.6L98.0 188.5L98.0 192.0L98.2 195.5M110.7 185.7L116.3 184.4L119.9 183.9M111.6 184.6L110.3 189.8L108.5 195.5M119.9 185.4L123.4 184.9L126.1 184.1L129.4 183.8M120.9 184.6L120.9 188.1L120.8 191.6L120.8 195.5M129.4 185.4L136.8 184.6L141.7 184.1M128.7 184.6L127.7 195.3M142.7 185.7L142.4 190.0L141.6 195.5M240.3 184.6L245.1 185.1L249.4 184.4M249.4 183.8L258.1 184.8M248.6 184.6L247.9 190.3L247.8 191.3M284.9 184.9L289.3 185.5M289.3 183.8L297.4 184.5M290.4 184.6L290.1 187.9L289.7 191.0M297.4 185.2L300.7 184.3L304.3 184.0L307.3 183.5M296.2 184.6L297.5 189.7L299.3 195.5M307.3 183.8L312.8 185.4L318.1 184.5M308.3 184.6L308.0 188.1L307.0 192.0L306.7 195.5M318.1 185.3L321.0 185.4L323.5 185.1L326.0 184.9M318.0 184.6L319.9 190.5L318.3 195.5M326.0 184.0L329.6 184.4L333.2 184.5L336.9 185.0M325.7 184.6L325.6 188.5L324.7 191.7L324.7 195.5M336.9 183.8L339.1 184.5L340.8 184.1L342.6 183.9M337.6 184.6L337.8 195.5M3.6 196.5L8.3 196.5L10.0 196.4M2.8 195.5L3.5 199.3L3.7 201.2M93.7 196.4L98.0 196.1L102.9 195.4M94.6 195.5L94.4 197.9M102.9 194.4L117.8 195.7M102.8 195.5L102.5 199.4L101.9 202.9L101.8 203.4M117.8 194.6L128.9 194.6M116.8 195.5L116.5 198.7L119.9 204.6L120.0 206.7M129.0 196.6L134.6 195.6L139.8 194.6M128.7 195.5L128.9 196.6M139.8 194.6L143.6 194.3M139.3 195.5L139.5 200.8M293.3 197.2L293.8 197.2L296.8 196.8L299.1 196.9M299.1 196.3L306.3 195.4L310.5 195.6M300.5 195.5L300.5 200.8L299.9 204.8M310.5 195.5L316.3 193.8L320.0 195.8M311.4 195.5L311.4 201.2L310.7 206.7M320.0 196.1L323.9 195.5L328.5 194.4M321.0 195.5L318.6 200.2L319.2 206.7M328.5 195.9L334.2 196.0L339.9 195.7M328.0 195.5L327.9 201.3L328.2 206.7M339.9 195.0L344.1 195.7L347.0 195.9M339.9 195.5L340.7 200.4L343.0 202.7L341.9 206.7M347.9 198.0L347.6 201.1L347.5 206.7M118.8 205.8L121.7 205.7M305.0 205.9L306.8 205.9L310.0 205.3L313.8 205.5M313.8 206.3L322.7 207.0M314.0 206.7L312.7 213.3L315.0 215.8M322.7 206.9L327.0 206.0L331.6 205.4M322.4 206.7L322.4 211.6L322.2 215.8M331.6 207.6L335.1 205.9L335.4 208.9L340.5 207.3M332.2 206.7L331.0 211.2L332.7 215.8M340.5 205.7L343.6 206.7L346.8 207.2L349.6 207.5M339.9 206.7L340.8 210.7L338.0 214.1L338.5 215.8M349.6 205.8L351.0 205.8M350.8 206.7L350.7 215.8M308.2 215.4L308.7 215.5L312.3 216.6M312.3 215.0L320.9 215.0M311.3 215.8L312.9 219.9L314.4 224.7M320.9 217.2L325.5 214.8L328.3 214.4M320.4 215.8L319.2 224.7M328.3 215.7L332.0 215.8L335.8 216.1M328.7 215.8L326.7 220.7L328.8 220.0L327.7 224.7M335.8 215.1L340.0 216.3L344.2 216.8M335.3 215.8L336.7 220.2L337.7 224.7M344.2 215.7L347.9 215.6L352.2 215.8M343.5 215.8L343.5 220.0L343.3 224.7M352.2 215.1L355.5 215.0M353.4 215.8L353.2 222.4L350.3 224.7M308.2 222.8L308.7 222.5L312.8 223.7M312.8 225.5L315.3 224.8L318.1 224.5L320.5 223.7M313.4 224.7L312.0 232.7M320.5 224.9L331.9 225.5M320.0 224.7L321.8 232.7M331.9 226.1L334.0 225.8L336.6 224.9L339.4 224.7M331.5 224.7L333.7 230.7L334.4 232.7M339.4 223.4L348.2 224.2M340.6 224.7L339.3 229.0L338.4 232.7M348.2 225.9L354.1 225.3L359.2 224.1M349.1 224.7L346.0 232.7M359.2 223.3L359.9 223.4M358.2 224.7L359.2 228.8L359.6 231.2M359.7 232.1L359.8 232.7M306.1 233.4L310.4 233.6M310.4 231.2L312.7 231.5L315.0 231.4L317.5 231.6M309.3 232.7L309.4 236.9L311.7 240.6M317.5 233.4L327.9 232.6M316.6 232.7L315.6 236.5L317.0 239.5L316.2 240.6M327.9 233.7L331.2 233.4L333.6 233.8L336.9 233.8M326.6 232.7L326.7 240.6M336.9 234.0L345.0 233.3M336.7 232.7L335.7 235.6L335.6 237.6L334.7 240.6M345.0 234.1L349.5 233.3L354.1 231.7M345.5 232.7L343.1 233.8L345.6 238.0L344.6 240.6M354.1 232.8L356.8 233.4L359.1 232.6L360.0 232.8M353.6 232.7L352.8 240.6M303.5 240.7L306.6 240.5M306.6 242.1L309.4 242.1L313.0 241.0L316.1 241.0M307.8 240.6L305.5 248.4M316.1 239.6L320.7 241.4L327.3 240.1M315.7 240.6L315.1 251.3M327.3 239.9L337.0 240.9M326.3 240.6L325.0 251.3M337.0 241.2L342.2 241.3L346.6 240.7M337.0 240.6L334.5 251.3M346.6 239.9L350.1 240.6L353.7 241.2M347.5 240.6L347.2 244.6L346.5 248.0L344.5 251.3M353.7 240.5L358.0 238.8L359.7 240.9L363.0 241.4M353.3 240.6L355.9 246.9L355.8 251.3M365.2 247.9L364.9 248.6L364.5 251.3M306.2 250.2L307.5 249.9M307.5 251.1L315.5 252.7L319.0 250.8M307.0 252.3L308.9 254.6L308.5 255.3M319.0 250.7L323.2 251.4L327.1 251.7M319.9 251.3L318.3 256.4L317.1 261.5M327.1 252.3L329.4 253.2L335.6 250.6M325.8 251.3L328.4 261.5M335.6 250.2L339.0 250.0L341.6 250.8L344.9 250.5M336.8 251.3L337.3 261.5M344.9 250.5L355.7 250.7M344.6 251.3L343.1 261.5M355.7 251.9L360.5 251.7L365.9 252.2M354.9 251.3L356.5 256.1L357.6 261.5M365.9 251.7L366.4 251.7M366.1 251.3L366.5 251.8M367.0 253.7L363.0 256.5L364.4 261.5M311.7 261.3L313.4 261.0L317.1 260.8M317.1 260.7L320.4 260.8L323.3 261.3L326.1 261.5M316.5 261.5L317.5 264.1L318.2 266.4L318.8 269.3M326.1 262.3L330.2 262.2L334.8 262.3M326.0 261.5L325.1 269.3M334.8 260.2L338.9 258.8L343.5 260.9M335.8 261.5L337.1 269.3M343.5 262.1L354.2 262.9M343.7 261.5L343.0 269.3M354.2 261.3L364.3 262.9M353.7 261.5L352.3 269.3M364.3 262.7L369.3 261.4L369.4 261.3M365.4 261.5L365.7 265.3L366.1 269.3M316.4 269.8L318.5 269.5L321.6 270.6M321.6 268.6L330.8 270.7M321.7 269.3L322.2 272.7L322.9 275.8L323.9 278.9M330.8 269.5L336.1 269.8L338.5 269.3L340.2 270.1M331.7 269.3L331.8 272.4L328.5 278.9M340.2 268.7L343.7 269.3L347.4 270.5M339.7 269.3L337.8 278.9M347.4 270.3L358.4 268.1M346.6 269.3L345.8 272.2L346.0 275.8L345.2 278.9M358.4 269.6L365.7 269.4M357.2 269.3L356.8 278.9M365.7 270.2L368.4 268.9L371.4 269.2L371.8 269.3M364.4 269.3L365.7 274.0L366.9 278.9M320.0 279.3L320.6 279.1L324.4 279.0L327.9 277.9M327.9 280.4L333.4 280.0L338.0 280.4M327.0 278.9L327.9 283.2L329.4 288.2M338.0 279.0L348.4 277.7M336.8 278.9L335.6 283.7L337.0 283.6L336.8 288.2M348.4 279.1L356.6 278.7M348.2 278.9L347.6 281.7L347.2 285.4L346.3 288.2M356.6 279.3L365.5 280.1M355.5 278.9L356.2 283.6L356.8 288.2M365.5 278.4L373.4 278.9M365.9 278.9L366.1 283.8L366.7 288.2M325.4 287.2L328.3 287.1M328.3 287.7L332.2 288.5L335.6 289.2M328.9 288.2L329.4 292.6M335.6 287.2L343.9 287.2M334.5 288.2L336.0 294.2L337.0 299.5M343.9 288.3L352.6 288.8M342.5 288.2L344.3 299.5M352.6 287.2L362.6 289.6M352.5 288.2L352.3 291.7L352.2 295.6L351.5 299.5M362.6 286.7L364.9 287.3L367.4 288.5L370.1 289.1M364.0 288.2L363.3 292.2L362.8 295.6L362.0 299.5M370.1 288.3L373.0 288.1M369.8 288.2L368.5 299.5M332.4 300.4L333.5 300.5M333.5 299.6L337.8 299.6L341.4 299.2M333.8 299.5L334.9 303.8M341.4 300.3L349.2 300.9M341.8 299.5L342.1 303.0L342.7 306.6L342.9 309.0M349.2 300.2L358.7 300.5M350.4 299.5L348.0 310.3M358.7 298.0L360.9 298.7L363.2 299.4L365.7 299.5M357.4 299.5L358.3 303.4L359.4 306.8L360.9 310.3M365.7 300.5L370.5 300.4L372.0 300.3M364.4 299.5L365.1 304.8L366.2 310.3M343.9 310.9L351.5 310.6M351.5 309.8L354.5 310.1L357.6 310.4L360.4 311.0M350.2 310.3L349.2 320.5M360.4 310.8L369.0 311.0M360.0 310.3L358.4 320.5M369.0 310.3L370.0 310.6M367.8 310.3L368.3 313.6L368.5 315.4M348.4 321.9L352.6 322.5L354.3 321.6M347.9 320.5L347.8 321.3M354.3 320.8L356.6 322.2L360.2 320.6L362.2 319.5M353.5 320.5L354.5 324.3L354.4 325.1M362.2 321.8L364.7 321.4M361.3 320.5L361.5 323.4" fill="none" stroke="#6e6e6e" stroke-opacity="0.4" stroke-width="0.6"/><path d="M0.0 16.5 L20.0 18.0 L40.0 24.0 L55.0 33.0 L68.3 38.0 L85.0 36.0 L100.0 33.0 L120.0 30.4 L140.0 20.0 L160.0 10.0 L178.0 0.0" fill="none" stroke="#7070ff" stroke-opacity="0.45" stroke-width="0.55"/><path d="M68.3 38.0 L50.0 52.0 L36.0 64.0 L24.0 74.0 L10.0 82.0 L0.0 88.0" fill="none" stroke="#7070ff" stroke-opacity="0.45" stroke-width="0.55"/><path d="M0.0 106.0 L30.0 104.0 L60.0 106.0 L90.0 104.0 L127.0 109.0 L145.0 108.0 L160.0 110.0 L185.0 95.0 L217.6 73.6 L240.0 70.0 L266.7 66.4 L300.0 66.0 L325.0 64.0 L352.0 63.0 L370.0 58.0 L388.0 52.0" fill="none" stroke="#7070ff" stroke-opacity="0.45" stroke-width="0.55"/><path d="M120.0 30.4 L124.0 50.0 L127.0 80.0 L127.0 109.0 L124.0 130.0 L121.0 150.0 L122.0 168.0 L126.0 174.0" fill="none" stroke="#7070ff" stroke-opacity="0.45" stroke-width="0.55"/><path d="M0.0 180.0 L30.0 181.0 L55.0 176.0 L76.0 170.0 L95.0 168.0 L108.0 166.0 L120.0 172.0 L132.0 176.0 L145.0 172.0 L158.0 167.0 L172.0 160.0 L190.0 163.0 L215.0 160.0 L240.0 163.0 L268.0 164.0 L300.0 160.0 L333.0 161.0" fill="none" stroke="#7070ff" stroke-opacity="0.45" stroke-width="0.55"/><path d="M108.0 166.0 L125.0 166.0 L140.0 170.0" fill="none" stroke="#7070ff" stroke-opacity="0.45" stroke-width="0.55"/><path d="M132.0 176.0 L145.0 160.0 L152.0 141.0 L160.0 110.0 L190.0 90.0 L217.6 73.6 L232.0 50.0 L245.0 28.0" fill="none" stroke="#7070ff" stroke-opacity="0.45" stroke-width="0.55"/><path d="M172.0 160.0 L190.0 140.0 L205.0 125.0 L218.0 110.0 L218.0 95.0 L217.6 73.6 L210.0 40.0 L200.0 0.0" fill="none" stroke="#7070ff" stroke-opacity="0.45" stroke-width="0.55"/><path d="M218.0 110.0 L235.0 95.0 L250.0 80.0 L266.7 66.4 L290.0 50.0 L310.0 42.0 L340.0 30.0 L370.0 18.0 L400.0 0.0" fill="none" stroke="#7070ff" stroke-opacity="0.45" stroke-width="0.55"/><path d="M245.0 28.0 L256.0 45.0 L266.7 66.4 L287.0 96.0 L292.0 120.0 L298.0 145.0 L301.0 160.0 L308.0 175.0 L318.0 197.0 L322.0 213.0 L319.0 224.0 L314.6 240.4" fill="none" stroke="#7070ff" stroke-opacity="0.45" stroke-width="0.55"/><path d="M287.0 96.0 L310.0 105.0 L330.0 112.0 L350.0 120.0" fill="none" stroke="#7070ff" stroke-opacity="0.45" stroke-width="0.55"/><path d="M405.0 10.0 L388.0 52.0 L375.0 75.0 L362.0 95.0 L350.0 120.0 L344.0 138.0 L333.0 161.0 L338.6 175.0 L344.0 190.0 L350.6 207.7 L357.1 226.3 L361.5 236.1 L366.0 255.0 L369.0 280.0 L371.0 305.0" fill="none" stroke="#7070ff" stroke-opacity="0.45" stroke-width="0.55"/><path d="M314.6 240.4 L325.0 233.0 L334.2 226.3 L341.9 224.1 L350.6 220.8" fill="none" stroke="#7070ff" stroke-opacity="0.45" stroke-width="0.55"/><path d="M381.0 100.0 L368.0 82.0 L352.0 63.0 L340.0 45.0 L326.0 20.0 L318.0 0.0" fill="none" stroke="#7070ff" stroke-opacity="0.45" stroke-width="0.55"/><path d="M352.0 63.0 L345.0 45.0 L340.0 30.0" fill="none" stroke="#7070ff" stroke-opacity="0.45" stroke-width="0.55"/><path d="M30.0 104.0 L45.0 125.0 L58.0 145.0 L68.0 160.0 L76.0 170.0" fill="none" stroke="#7070ff" stroke-opacity="0.45" stroke-width="0.55"/><path d="M120.0 30.4 L150.0 45.0 L180.0 58.0 L217.6 73.6" fill="none" stroke="#7070ff" stroke-opacity="0.45" stroke-width="0.55"/><path d="M300.0 160.0 L304.0 175.0" fill="none" stroke="#7070ff" stroke-opacity="0.45" stroke-width="0.55"/><path d="M287.0 96.0 L270.0 110.0 L255.0 130.0 L250.0 150.0 L268.0 164.0" fill="none" stroke="#7070ff" stroke-opacity="0.45" stroke-width="0.55"/><path d="M336.0 226.5 L345.0 250.0 L355.0 270.0 L365.0 290.0" fill="none" stroke="#7070ff" stroke-opacity="0.45" stroke-width="0.55"/><path d="M68.3 38.0 L80.0 20.0 L92.0 8.0 L98.0 0.0" fill="none" stroke="#7070ff" stroke-opacity="0.45" stroke-width="0.55"/><path d="M0.0 93.0 L40.0 95.0 L80.0 97.0 L120.0 95.0 L150.0 91.0 L175.0 86.0" fill="none" stroke="#7070ff" stroke-opacity="0.45" stroke-width="0.55"/><path d="M127.0 109.0 L138.0 128.0 L147.0 148.0 L155.0 167.0" fill="none" stroke="#7070ff" stroke-opacity="0.45" stroke-width="0.55"/><path d="M118.0 147.0 L140.0 150.0 L158.0 153.0 L172.0 160.0" fill="none" stroke="#7070ff" stroke-opacity="0.45" stroke-width="0.55"/><path d="M245.0 28.0 L232.0 12.0 L222.0 0.0" fill="none" stroke="#7070ff" stroke-opacity="0.45" stroke-width="0.55"/><path d="M245.0 28.0 L258.0 14.0 L266.0 0.0" fill="none" stroke="#7070ff" stroke-opacity="0.45" stroke-width="0.55"/><path d="M268.0 164.0 L282.0 184.0 L294.0 204.0 L302.0 222.0 L308.0 236.0" fill="none" stroke="#7070ff" stroke-opacity="0.45" stroke-width="0.55"/><path d="M336.0 226.5 L350.0 250.0 L360.0 272.0 L367.0 292.0" fill="none" stroke="#7070ff" stroke-opacity="0.45" stroke-width="0.55"/><path d="M340.0 30.0 L372.0 28.0 L405.0 30.0 L428.0 37.0 L446.0 42.0" fill="none" stroke="#7070ff" stroke-opacity="0.45" stroke-width="0.55"/><path d="M385.0 91.0 L405.0 73.0 L425.0 60.0 L445.0 45.0" fill="none" stroke="#7070ff" stroke-opacity="0.45" stroke-width="0.55"/><path d="M330.0 72.0 L336.0 96.0 L340.0 122.0 L336.0 148.0" fill="none" stroke="#7070ff" stroke-opacity="0.45" stroke-width="0.55"/><path d="M30.0 104.0 L48.0 92.0 L68.0 70.0 L80.0 55.0" fill="none" stroke="#7070ff" stroke-opacity="0.45" stroke-width="0.55"/><path d="M0.0 135.0 L30.0 138.0 L60.0 142.0 L80.0 150.0 L100.0 160.0" fill="none" stroke="#7070ff" stroke-opacity="0.45" stroke-width="0.55"/><path d="M218.0 110.0 L240.0 125.0 L260.0 140.0 L268.0 164.0" fill="none" stroke="#7070ff" stroke-opacity="0.45" stroke-width="0.55"/><path d="M217.6 73.6 L200.0 100.0 L190.0 125.0 L180.0 150.0" fill="none" stroke="#7070ff" stroke-opacity="0.45" stroke-width="0.55"/><path d="M11.4 0.0 L13.6 18.2 L13.2 70.0" fill="none" stroke="#2a2a2a" stroke-width="0.8"/><path d="M0.0 65.5 L4.6 67.5 L9.1 70.5 L15.2 73.6 L23.8 73.8" fill="none" stroke="#2a2a2a" stroke-width="0.8"/><path d="M23.8 73.8 L23.8 118.2 L25.8 121.6 L28.8 129.1 L34.1 141.0 L36.4 147.4 L36.0 154.5 L34.2 159.5 L31.9 167.1 L31.9 177.7 L28.8 182.3 L27.3 188.4" fill="none" stroke="#2a2a2a" stroke-width="0.8"/><path d="M23.8 89.9 L95.6 90.6" fill="none" stroke="#2a2a2a" stroke-width="0.8"/><path d="M84.5 150.1 L131.3 150.4 L129.0 159.5 L132.1 168.6 L134.5 174.5" fill="none" stroke="#2a2a2a" stroke-width="0.8"/><path d="M120.0 30.4 L210.0 30.4 L298.0 29.5" fill="none" stroke="#2a2a2a" stroke-width="0.8"/><path d="M172.7 30.4 L170.6 57.7 L168.0 90.0 L165.0 130.0 L163.6 150.0 L164.0 169.0" fill="none" stroke="#2a2a2a" stroke-width="0.8"/><path d="M234.5 30.2 L237.4 45.5 L241.9 68.3 L245.7 92.6 L248.0 103.0 L250.3 106.3 L251.5 111.5 L249.4 115.0 L248.2 120.9 L245.8 124.4 L247.0 128.5 L247.6 135.6 L247.6 143.2 L250.5 149.1 L252.3 156.2 L253.5 158.5" fill="none" stroke="#2a2a2a" stroke-width="0.8"/><path d="M184.2 150.6 L250.0 150.4" fill="none" stroke="#2a2a2a" stroke-width="0.8"/><path d="M184.2 150.6 L184.5 154.4 L188.8 160.2 L189.5 163.1 L191.0 166.7 L190.5 170.8" fill="none" stroke="#2a2a2a" stroke-width="0.8"/><path d="M253.5 158.5 L257.6 159.1 L277.0 160.3 L319.0 162.3 L320.5 168.4 L323.0 166.0 L325.0 157.0 L330.0 156.3 L337.3 156.5" fill="none" stroke="#2a2a2a" stroke-width="0.8"/><path d="M298.0 29.5 L292.0 36.4 L298.0 43.0 L302.6 46.0 L307.0 53.0 L313.6 63.6 L320.0 71.0 L327.3 79.5 L333.0 87.0 L336.8 91.5 L340.9 102.3 L344.5 109.0 L347.7 115.9 L351.5 118.5 L355.0 119.5" fill="none" stroke="#2a2a2a" stroke-width="0.8"/><path d="M298.0 29.5 L306.0 26.5 L315.9 23.9 L332.0 25.0 L345.5 25.2 L348.7 25.8 L351.0 28.1 L355.5 35.7 L383.0 36.4 L411.0 64.5" fill="none" stroke="#2a2a2a" stroke-width="0.8"/><path d="M266.2 30.2 L267.2 25.0 L268.2 22.7 L273.8 21.3 L275.3 16.7 L281.4 12.9 L289.0 10.0 L296.6 7.6 L302.6 3.8 L305.2 0.0" fill="none" stroke="#2a2a2a" stroke-width="0.8"/><path d="M133.2 0.0 L133.1 1.9 L133.2 3.9 L131.9 4.8 L130.5 5.6 L130.5 7.5 L129.2 8.3 L127.8 9.0 L128.0 10.9 L126.8 11.9 L125.5 12.9 L126.0 14.9 L124.6 15.7 L123.3 16.6 L123.7 18.3 L122.7 20.1 L121.9 21.8 L122.9 23.5 L121.7 24.5 L120.8 25.6 L121.6 27.5 L120.4 28.8 L119.6 29.9 L119.3 32.0 L117.6 32.4 L116.2 33.2 L116.0 35.2 L114.3 35.7 L112.9 36.5 L113.0 38.3 L111.5 39.4 L110.4 40.8 L111.1 42.7 L109.9 43.9 L108.9 44.9 L109.5 46.7 L108.1 47.4 L106.9 48.5 L106.7 50.5 L105.1 51.3 L103.6 52.3 L103.5 54.4 L101.9 55.1 L100.8 56.2 L100.9 57.9 L99.6 58.9 L98.8 60.1 L99.5 61.7 L98.3 62.7 L97.6 63.9 L98.6 65.5 L97.3 66.5 L96.6 67.7 L97.7 69.4 L96.3 70.4 L95.7 71.7 L96.5 73.4 L95.0 74.5 L94.3 76.0 L95.9 77.3 L95.2 79.0 L95.4 80.6 L97.1 81.8 L96.5 83.6 L96.8 84.9 L97.3 86.7 L96.0 87.9 L95.4 89.4 L96.2 91.0 L95.6 92.6 L95.8 94.1 L97.1 95.4 L96.6 97.1 L96.8 98.7 L98.6 99.9 L98.0 101.7 L98.3 103.4 L100.1 104.6 L100.2 106.6 L100.8 108.0 L102.4 109.7 L100.4 110.7 L99.5 112.3 L99.6 114.4 L97.6 115.2 L97.0 116.4 L97.2 118.0 L95.6 118.6 L94.9 119.7 L95.1 121.4 L93.3 122.1 L92.5 123.4 L92.4 125.1 L90.7 125.9 L90.2 127.3 L90.6 129.2 L88.8 130.0 L88.2 131.4 L88.7 133.1 L87.1 134.0 L86.7 135.3 L87.2 136.8 L85.9 138.2 L85.7 139.8 L86.6 141.6 L85.1 143.0 L85.1 144.4 L86.1 145.9 L84.8 147.2 L84.8 148.7 L85.0 150.1" fill="none" stroke="#111" stroke-width="1.0"/><path d="M127.6 10.7a1.4 1.1 0 1 0 0.1 0M125.6 14.2a1.4 1.1 0 1 0 0.1 0M123.2 18.5a1.1 0.9 0 1 0 0.1 0M122.7 21.8a1.1 0.9 0 1 0 0.1 0M120.5 29.8a0.9 0.7 0 1 0 0.1 0M117.0 33.4a1.5 1.2 0 1 0 0.1 0M112.6 37.9a1.4 1.1 0 1 0 0.1 0M94.7 68.5a1.1 0.9 0 1 0 0.1 0M93.3 73.5a1.0 0.8 0 1 0 0.1 0M93.4 78.9a0.8 0.7 0 1 0 0.1 0M94.8 84.3a0.9 0.7 0 1 0 0.1 0M94.1 96.6a1.4 1.1 0 1 0 0.1 0M96.0 102.1a1.1 0.9 0 1 0 0.1 0M95.9 118.7a1.5 1.2 0 1 0 0.1 0M90.0 123.4a1.4 1.1 0 1 0 0.1 0M86.9 129.2a1.4 1.1 0 1 0 0.1 0M86.8 136.9a0.9 0.8 0 1 0 0.1 0M86.1 140.6a1.0 0.8 0 1 0 0.1 0M82.7 147.2a1.3 1.0 0 1 0 0.1 0" fill="none" stroke="#111" stroke-width="0.9"/><path d="M-0.3 203.7 L0.5 203.2 L1.4 202.9 L2.3 202.6 L2.6 201.6 L3.4 201.0 L4.2 200.5 L5.3 200.3 L5.6 199.2 L6.7 199.1 L7.4 198.4 L7.9 197.4 L9.0 197.2 L9.8 196.5 L10.6 195.9 L11.8 195.9 L12.0 194.5 L12.9 193.8 L14.2 194.4 L15.0 193.5 L15.9 192.9 L16.9 192.7 L17.9 192.3 L19.1 192.6 L19.6 191.5 L20.5 191.2 L21.5 191.3 L22.3 190.9 L23.3 191.1 L24.1 190.7 L25.1 189.9 L26.1 189.6 L27.4 190.1 L28.5 190.0 L29.3 188.7 L30.5 189.2 L31.6 189.1 L32.5 188.5 L33.5 187.8 L34.5 188.3 L35.5 188.2 L36.5 187.5 L37.5 187.9 L38.5 187.4 L39.5 187.1 L40.5 187.3 L41.5 187.2 L42.5 187.3 L43.4 187.7 L44.4 187.9 L45.3 188.1 L46.3 188.2 L47.1 188.2 L48.0 188.3 L49.1 188.1 L50.0 188.3 L50.7 189.0 L51.5 189.2 L52.3 189.7 L53.4 189.5 L54.2 190.1 L54.7 191.2 L55.7 191.3 L56.4 191.8 L57.6 191.7 L58.2 192.4 L59.0 193.2 L60.0 193.1 L60.8 193.7 L61.9 193.1 L62.8 193.6 L63.6 194.2 L64.6 194.0 L65.5 194.6 L67.0 194.4 L67.8 193.6 L68.7 193.3 L70.1 193.8 L70.5 192.4 L71.4 192.1 L71.1 191.1 L71.0 190.0 L70.7 189.0 L70.0 188.2 L69.8 187.2 L70.9 186.8 L71.6 185.6 L72.6 185.4 L73.6 185.5 L74.5 185.2 L75.5 184.7 L76.4 184.8 L77.3 184.9 L78.2 185.6 L79.0 185.5 L78.9 186.4 L79.7 187.5 L80.8 187.0 L81.8 187.7 L82.8 188.0 L83.9 187.4 L85.2 187.3 L85.8 188.1 L86.6 188.6 L87.5 189.1 L88.3 189.5 L89.1 190.1 L89.2 191.0 L90.1 192.1 L89.5 193.2 L89.7 194.0 L90.6 194.1 L91.4 195.0 L92.6 194.7 L93.3 195.5 L93.6 196.6 L94.0 197.7 L94.8 198.5 L95.1 199.7 L96.2 200.4 L96.7 201.4 L96.7 202.4 L97.1 203.2 L98.0 203.6 L99.0 203.5 L99.9 203.3 L101.0 203.1 L102.2 203.7 L103.0 203.3 L103.1 204.3 L103.5 205.1 L103.9 206.1 L104.0 206.7 L105.3 206.9 L105.9 205.7 L107.0 205.5 L107.6 204.7 L108.6 204.3 L109.4 203.6 L110.2 203.1 L111.2 202.7 L111.7 201.8 L112.2 200.9 L113.0 200.7 L114.0 200.9 L115.0 201.3 L116.5 200.9 L116.6 202.0 L117.0 203.0 L118.1 203.4 L118.6 204.4 L118.4 205.6 L119.1 206.4 L120.0 206.7 L121.1 207.3 L121.3 206.1 L121.7 205.1 L122.3 204.2 L123.0 203.4 L123.7 202.6 L123.7 201.6 L124.5 200.8 L124.1 199.6 L124.6 198.8 L125.2 197.7 L125.3 196.5 L125.5 195.3 L126.7 195.8 L128.1 195.1 L128.7 195.8 L129.5 196.4 L129.6 197.5 L130.3 198.0 L131.1 198.8 L132.3 198.9 L133.2 199.5 L133.8 200.5 L134.9 201.1 L136.2 200.8 L137.4 201.6 L138.5 201.1 L139.6 200.7 L140.7 200.9 L141.9 200.5 L142.8 201.1 L143.7 201.6 L144.7 201.6 L145.8 201.8 L147.0 202.0 L147.5 203.0 L148.5 203.3 L149.2 204.2 L148.7 205.1 L147.8 205.9 L147.8 206.9 L147.0 207.5 L146.0 207.6 L145.4 208.6 L144.3 208.7 L145.0 208.0 L145.3 207.1 L145.4 206.1 L146.0 205.3 L146.8 204.4 L145.9 203.6 L146.1 202.4 L145.1 201.6 L145.8 200.4 L145.2 199.4 L144.6 198.6 L145.0 197.5 L144.5 196.6 L143.5 195.9 L143.4 194.9 L143.4 193.9 L143.7 193.0 L142.9 192.0 L142.8 191.0 L143.1 190.0 L142.9 189.0 L143.3 188.0 L143.5 187.0 L143.0 186.2 L142.2 185.6 L141.6 184.9 L141.9 183.7 L141.1 183.1 L140.7 182.3 L140.2 181.5 L139.7 180.5 L139.2 179.5 L138.5 178.7 L137.7 177.9 L136.9 177.3 L136.2 176.7 L135.6 176.0 L135.9 175.1 L135.3 173.9 L136.2 173.2 L136.8 172.4 L136.5 171.3 L137.0 170.4 L138.0 170.1 L139.1 170.4 L140.1 169.8 L141.1 169.7 L141.9 168.5 L142.9 169.1 L143.8 168.6 L144.7 168.4 L145.7 168.7 L146.5 168.4 L147.5 168.4 L148.3 168.1 L149.3 168.1 L150.1 167.4 L151.1 167.7 L152.0 168.0 L153.1 167.8 L154.1 167.6 L155.0 168.2 L156.0 168.6 L157.0 168.7 L158.0 168.0 L158.9 168.3 L159.9 168.3 L160.8 168.5 L161.7 169.2 L162.7 168.7 L163.7 168.7 L164.7 168.8 L165.4 169.3 L166.1 170.0 L167.1 170.0 L168.0 170.3 L168.8 170.7 L169.6 171.2 L170.1 172.2 L171.2 171.9 L172.2 172.6 L171.6 171.6 L172.4 170.7 L171.9 169.7 L172.5 168.9 L172.3 167.9 L172.0 166.9 L172.1 166.0 L172.9 165.0 L172.7 164.0 L172.7 163.0 L172.7 162.0 L173.1 161.0 L173.0 160.0 L173.1 158.8 L174.1 158.0 L174.3 156.9 L174.8 156.3 L175.8 156.7 L176.5 157.6 L177.9 158.0 L177.4 159.0 L177.6 160.0 L177.5 161.0 L177.5 162.0 L178.0 163.0 L178.1 164.0 L178.0 165.0 L178.5 166.0 L178.1 167.0 L177.8 168.0 L177.9 169.0 L177.9 170.0 L177.5 171.0 L177.3 172.0 L177.6 172.7 L178.5 172.3 L179.6 172.7 L180.4 172.0 L181.6 172.7 L182.4 171.9 L183.3 171.8 L184.3 171.9 L185.3 171.7 L186.0 170.8 L187.0 171.0 L187.9 170.5 L188.8 170.7 L189.7 170.2 L190.7 170.9 L191.5 170.2 L192.4 170.0 L193.4 170.5 L194.3 170.2 L195.2 169.6 L196.1 169.6 L197.0 169.7 L197.9 169.0 L198.8 168.9 L199.8 169.5 L200.6 168.6 L201.6 169.1 L202.5 169.0 L203.4 168.8 L204.3 168.4 L205.2 168.8 L206.1 168.6 L207.0 167.7 L207.9 168.6 L208.8 168.2 L209.7 167.8 L210.6 167.6 L211.5 167.5 L212.5 168.2 L213.4 168.2 L214.3 167.6 L215.2 167.3 L216.1 167.1 L217.0 167.5 L218.0 167.3 L219.0 167.4 L219.9 168.0 L220.7 168.9 L221.9 168.5 L222.8 169.2 L223.7 169.6 L224.7 169.8 L225.7 170.1 L226.5 170.6 L227.3 171.2 L227.7 172.5 L228.6 172.8 L229.5 173.3 L230.2 174.0 L231.3 174.0 L232.2 174.5 L232.6 175.7 L233.6 176.0 L234.2 176.8 L235.4 176.9 L236.2 177.5 L236.5 178.6 L237.0 179.5 L238.2 179.9 L238.7 180.8 L239.5 181.5 L239.6 182.7 L239.6 183.8 L240.2 184.6 L241.0 185.4 L240.7 186.6 L241.0 187.5 L241.7 188.0 L242.2 189.2 L243.3 189.4 L244.3 189.7 L245.3 190.0 L246.3 190.2 L247.1 190.9 L247.9 191.3 L248.7 190.7 L249.8 190.7 L250.7 190.3 L251.7 190.1 L252.5 189.7 L253.1 188.8 L254.2 188.6 L254.7 187.6 L255.5 187.0 L256.3 186.4 L257.3 186.1 L257.4 184.7 L258.5 184.5 L259.1 183.8 L260.2 183.6 L261.0 183.1 L261.5 182.1 L261.9 181.1 L263.0 181.0 L263.8 180.4 L264.6 179.9 L265.3 179.4 L266.0 178.6 L266.9 178.3 L267.8 178.1 L268.5 176.9 L269.5 177.1 L270.4 177.6 L271.4 177.9 L272.4 177.9 L273.3 177.2 L274.0 177.8 L275.2 177.7 L276.0 178.3 L276.9 178.5 L277.5 179.4 L278.4 179.7 L279.1 180.5 L279.7 181.3 L281.1 181.2 L281.6 182.3 L282.5 182.9 L283.5 183.2 L284.6 183.7 L284.4 185.0 L285.2 185.6 L285.8 186.3 L286.9 186.7 L286.8 188.0 L287.8 188.4 L288.3 189.2 L288.8 190.0 L289.5 190.6 L289.5 191.5 L290.3 192.5 L290.3 193.6 L290.6 194.9 L291.1 195.7 L292.4 195.8 L292.9 196.6 L293.1 197.7 L294.0 198.1 L294.7 198.8 L294.8 199.9 L296.0 200.3 L296.4 201.2 L297.1 201.9 L297.0 203.0 L297.7 203.8 L298.2 204.4 L299.2 204.6 L300.1 204.6 L301.0 205.2 L301.9 205.3 L302.9 205.0 L303.8 205.7 L305.3 205.2 L305.1 206.3 L305.9 206.9 L306.4 207.7 L306.3 208.7 L307.2 209.6 L307.5 210.5 L307.8 211.6 L307.9 212.7 L307.7 213.7 L308.4 214.6 L308.6 215.5 L308.0 216.5 L308.0 217.4 L307.8 218.4 L308.9 219.2 L308.8 220.2 L308.6 221.1 L307.8 221.9 L308.1 223.0 L307.5 223.8 L308.1 224.9 L307.6 225.8 L307.2 226.7 L307.5 227.8 L307.0 228.6 L306.5 229.5 L306.3 230.4 L306.3 231.3 L306.0 232.2 L305.6 233.1 L305.8 234.1 L306.0 235.0 L305.9 236.0 L305.6 236.9 L304.4 237.3 L304.3 238.3 L303.9 239.1 L303.2 239.9 L303.2 241.0 L303.4 242.2 L303.0 243.2 L304.0 243.9 L304.3 245.0 L304.7 246.0 L304.7 247.1 L305.2 247.9 L305.5 248.8 L306.1 249.6 L306.4 250.5 L306.7 251.3 L307.5 252.0 L307.6 253.0 L307.4 254.1 L307.9 254.8 L308.9 255.4 L309.1 256.3 L309.2 257.3 L310.2 257.8 L310.4 258.7 L310.6 259.6 L311.4 260.2 L311.2 261.4 L312.5 261.7 L312.1 263.0 L312.8 263.7 L313.5 264.3 L314.1 265.0 L313.9 266.1 L314.5 266.8 L315.5 267.4 L315.8 268.2 L316.5 268.9 L316.3 270.0 L316.9 270.8 L317.3 271.6 L317.3 272.6 L318.1 273.3 L318.6 274.1 L318.2 275.3 L318.5 276.1 L318.9 277.0 L319.4 277.8 L319.6 278.8 L319.7 279.8 L320.9 280.4 L320.9 281.4 L321.2 282.3 L321.1 283.4 L321.7 284.1 L322.2 285.0 L323.3 285.2 L323.6 286.4 L324.7 286.5 L325.3 287.3 L326.0 287.9 L326.7 288.7 L327.6 289.1 L328.7 289.5 L328.8 290.5 L328.9 291.4 L329.7 292.2 L329.3 293.4 L330.1 294.1 L329.8 295.2 L330.6 295.9 L330.3 297.0 L330.9 297.9 L331.7 298.7 L331.8 299.7 L333.0 300.3 L333.4 301.3 L333.4 302.4 L334.0 303.1 L334.8 303.6 L335.4 304.3 L336.4 304.5 L337.1 305.1 L337.9 305.6 L338.7 306.1 L339.8 305.8 L340.3 306.9 L341.2 307.2 L342.4 307.3 L343.0 308.1 L343.3 309.0 L343.9 309.9 L343.8 311.0 L343.9 312.1 L344.8 312.8 L345.2 313.7 L345.6 314.7 L344.9 315.9 L345.5 316.8 L346.1 317.7 L345.6 318.8 L346.3 319.6 L346.5 320.8 L347.5 321.1 L348.4 321.5 L349.1 322.2 L350.0 322.7 L350.0 324.0 L351.1 324.3 L351.6 325.4 L352.5 325.5 L353.4 325.0 L354.4 325.1 L355.3 325.3 L356.2 325.3 L357.0 325.0 L357.8 324.5 L358.7 324.2 L359.5 323.6 L360.6 323.9 L361.4 323.6 L362.3 323.4 L363.0 322.7 L364.1 322.6 L364.5 321.7 L365.4 321.1 L365.7 320.1 L366.4 319.4 L366.9 318.6 L367.2 317.6 L367.6 316.9 L368.6 316.2 L368.8 315.2 L368.9 314.3 L369.6 313.5 L369.1 312.3 L369.9 311.6 L370.0 310.6 L369.9 309.5 L370.2 308.6 L370.3 307.7 L370.8 306.8 L371.4 306.0" fill="none" stroke="#000" stroke-width="1.05" stroke-linejoin="round"/><path d="M371.4 306.0 L372.8 292.4 L373.5 277.3 L371.5 268.0 L368.2 257.3 L365.3 248.2 L361.5 237.0 L359.5 231.5 L361.1 225.6 L358.5 221.0 L355.5 215.0 L353.9 213.2 L347.4 196.8 L343.0 185.9 L341.8 180.0 L338.6 166.2 L337.6 158.8 L338.6 153.5 L342.9 142.9 L348.2 132.3 L353.5 121.7 L358.7 112.2 L363.0 105.9 L369.0 101.5 L377.8 97.4 L386.3 92.1 L392.7 86.5 L397.3 77.4" fill="none" stroke="#000" stroke-width="1.05" stroke-linejoin="round"/><path d="M371.4 306.0 L372.8 292.4 L373.5 277.3 L371.5 268.0 L368.2 257.3 L365.3 248.2 L361.5 237.0 L359.5 231.5 L361.1 225.6 L358.5 221.0 L355.5 215.0 L353.9 213.2 L347.4 196.8 L343.0 185.9 L341.8 180.0 L338.6 166.2" fill="none" stroke="#000" stroke-width="1.7" stroke-linejoin="round"/><path d="M397.0 77.2 L397.6 76.5 L398.2 75.8 L399.1 75.3 L399.3 74.4 L400.0 73.7 L400.1 72.6 L400.9 72.1 L401.6 71.5 L401.9 70.6 L402.7 70.0 L403.2 69.2 L403.3 68.2 L404.0 67.5 L405.2 67.7 L405.8 66.7 L406.6 66.2 L407.7 66.4 L408.6 66.0 L409.4 65.6 L410.3 65.3 L411.0 64.2 L411.9 64.1 L412.8 64.1 L413.7 64.8 L414.6 64.0 L415.5 64.0 L416.4 63.8 L417.3 63.8 L418.2 63.7 L419.2 63.9 L420.1 63.7 L421.0 63.8 L421.9 64.3 L422.8 63.6 L423.7 64.1 L424.8 63.9 L425.2 63.1 L425.7 62.3 L426.3 61.6 L426.7 60.8 L427.0 59.8 L427.6 59.1 L428.1 58.3 L428.8 57.6 L429.8 57.2 L429.9 56.1 L430.2 55.2 L431.1 54.6 L431.9 54.0 L432.2 53.1 L433.0 52.5 L433.1 51.3 L433.7 50.6 L434.8 50.2 L434.9 49.0 L435.7 48.4 L436.4 47.7 L436.9 46.8 L437.4 46.0 L438.1 45.1 L439.4 45.3 L440.2 44.6 L441.3 44.3 L442.0 43.4 L443.0 43.1 L443.7 42.5 L444.3 41.7 L445.0 41.0 L445.8 40.4 L446.4 39.6 L447.3 39.1 L448.3 39.3 L449.3 38.8 L450.3 39.3 L451.3 39.0 L452.2 39.0 L453.2 39.1 L454.2 38.9 L455.3 38.4 L456.2 38.9 L457.2 39.0 L458.1 39.4 L458.7 40.6 L459.7 40.6 L460.5 41.3 L461.8 41.2 L461.0 40.5 L461.1 39.4 L460.7 38.6 L459.9 38.0 L459.2 37.4 L458.7 36.5 L457.9 36.0 L457.4 35.2 L456.4 34.3 L457.2 33.5 L457.7 32.6 L457.2 31.5 L457.9 30.7 L458.0 29.7 L457.6 28.6 L457.7 27.5 L457.0 26.5 L457.0 25.6 L457.2 24.3 L458.5 24.1 L458.6 22.8 L459.3 22.6 L458.7 21.4 L457.7 21.0 L456.8 20.5 L455.9 19.9 L454.9 19.8 L454.0 19.5 L453.2 18.9 L452.7 18.0 L451.9 17.5 L450.7 17.7 L450.0 17.0 L449.3 16.4 L448.9 15.4 L447.7 15.3 L447.5 14.1 L446.5 13.8 L446.0 13.0 L446.9 13.4 L447.6 13.9 L447.8 15.1 L448.7 15.4 L449.0 16.4 L449.8 16.9 L450.5 17.4 L451.6 17.6 L452.0 18.6 L452.9 19.1 L454.0 18.8 L455.1 18.6 L456.0 18.9 L456.9 19.8 L458.2 19.9 L458.8 19.0 L459.7 18.7 L460.7 18.7 L461.5 18.2 L462.2 17.6 L463.0 17.9 L464.1 18.0 L465.0 18.1 L466.1 18.2 L466.8 19.0 L467.6 19.6 L468.7 19.5 L469.3 19.8 L470.4 19.7 L471.3 19.4 L471.8 18.4 L472.7 18.0 L473.4 17.4 L473.9 16.6 L474.3 15.7 L475.0 15.1 L475.6 14.3 L476.3 13.6 L477.1 13.0 L478.2 12.7 L479.1 12.0 L480.4 11.8 L480.2 10.7 L481.1 9.9 L481.2 8.9 L481.0 7.9 L480.8 7.0 L481.0 6.0 L480.8 5.1 L480.7 4.2 L479.7 3.6 L479.3 2.4 L478.5 1.4 L477.3 1.6 L476.2 1.8 L474.8 1.2 L474.3 2.2 L473.2 2.3 L472.5 3.2 L473.2 4.1 L472.9 5.1 L473.3 6.1 L472.8 7.1 L473.2 8.0 L473.3 9.3 L472.2 9.0 L471.4 9.5 L470.7 10.1 L470.3 9.2 L469.5 8.5 L469.8 7.3 L468.8 6.7 L468.6 5.8 L468.2 4.9 L467.8 4.1 L467.0 3.4 L467.3 2.0 L466.5 1.1 L466.0 0.0" fill="none" stroke="#000" stroke-width="1.0" stroke-linejoin="round"/><path d="M461.6 41.3 L463.2 38.1 L468.5 32.8 L474.8 27.5 L482.3 24.4 L486.5 22.8 L487.6 19.1 L488.1 13.2 L487.0 7.9 L484.9 3.7 L483.3 0.0" fill="none" stroke="#000" stroke-width="1.0"/><path d="M191.2 165.7 L192.1 165.5 L192.4 164.6 L193.6 164.9 L193.6 163.7 L194.5 163.6 L195.6 163.7 L195.9 162.6 L197.1 163.0 L197.3 162.3 L198.2 162.4 L198.9 162.9 L199.7 163.2 L200.7 163.5 L199.8 164.4 L200.9 165.0 L200.1 165.9 L201.0 166.5" fill="none" stroke="#000" stroke-width="1.3" stroke-linejoin="round"/><path d="M209.3 167.9 L209.4 166.3 L210.5 166.9 L211.0 166.3 L212.0 166.6 L212.3 165.6 L213.0 166.1 L213.8 164.9 L214.6 166.2 L215.4 165.3 L216.2 164.9 L217.1 165.2 L217.7 165.8 L218.8 165.1 L219.4 165.8 L220.4 165.4 L221.4 165.8 L221.9 166.4 L222.4 166.8 L223.0 167.3 L223.2 168.4 L224.0 168.4" fill="none" stroke="#000" stroke-width="1.3" stroke-linejoin="round"/><path d="M227.4 170.4 L227.8 171.2 L228.9 171.0 L229.4 171.8 L229.9 172.6 L231.0 172.3 L231.4 173.1 L232.0 173.5 L232.4 174.1 L233.9 173.3 L234.4 174.0 L234.0 175.6 L234.9 175.9 L236.1 175.8 L236.1 177.0 L237.5 176.9 L237.7 177.7 L238.0 178.4 L238.8 178.8 L239.4 179.3 L239.3 180.3" fill="none" stroke="#000" stroke-width="1.3" stroke-linejoin="round"/><path d="M179.5 163.3 L180.8 163.4 L180.5 164.2 L180.9 164.8 L180.6 165.7 L181.5 166.0" fill="none" stroke="#000" stroke-width="1.3" stroke-linejoin="round"/><path d="M248.8 185.9 L249.9 186.9 L250.1 185.5 L251.1 186.1 L251.9 186.0 L252.5 185.6 L252.9 184.7 L253.6 184.5 L254.5 184.8 L255.3 184.9 L255.8 184.2 L256.4 183.8 L256.9 183.4 L257.5 183.0 L258.4 182.9 L258.6 182.1 L259.3 181.8 L260.0 181.5 L260.6 181.1 L261.0 180.5" fill="none" stroke="#000" stroke-width="1.3" stroke-linejoin="round"/><path d="M268.8 178.2 L269.6 177.8 L270.2 177.9 L270.8 178.1 L271.3 178.6 L272.0 178.4" fill="none" stroke="#000" stroke-width="1.3" stroke-linejoin="round"/><path d="M160.1 167.4 L160.7 168.2 L161.4 167.5 L162.0 168.3 L162.6 169.0 L163.4 168.1 L164.0 168.5" fill="none" stroke="#000" stroke-width="1.3" stroke-linejoin="round"/><path d="M303.1 206.1 L303.9 206.1 L304.0 206.9 L304.2 207.7 L305.5 207.1 L305.5 208.0" fill="none" stroke="#000" stroke-width="1.3" stroke-linejoin="round"/><path d="M308.0 216.0 L307.0 216.7 L307.1 217.3 L308.4 217.8 L307.3 218.5 L307.6 219.1 L307.6 219.8 L308.6 220.3 L308.0 221.0" fill="none" stroke="#000" stroke-width="1.3" stroke-linejoin="round"/><path d="M305.8 231.1 L305.3 231.6 L305.6 232.3 L304.7 232.8 L305.0 233.5 L305.1 234.2 L304.2 234.6 L304.2 235.3 L304.5 236.0" fill="none" stroke="#000" stroke-width="1.3" stroke-linejoin="round"/><path d="M305.2 257.0 L305.5 257.6 L305.5 258.4 L306.4 258.6 L306.7 259.2 L306.6 260.0 L307.2 260.4 L307.5 261.0" fill="none" stroke="#000" stroke-width="1.3" stroke-linejoin="round"/><path d="M327.0 291.3 L328.2 291.4 L327.5 292.4 L328.7 292.5 L328.7 293.2 L328.4 294.0 L329.3 294.2 L329.4 294.9 L330.1 295.2 L330.0 296.0" fill="none" stroke="#000" stroke-width="1.3" stroke-linejoin="round"/><path d="M334.0 303.9 L334.7 304.0 L334.9 305.1 L335.7 304.8 L336.5 304.6 L336.7 305.7 L337.7 305.2 L338.0 306.0" fill="none" stroke="#000" stroke-width="1.3" stroke-linejoin="round"/><path d="M346.0 318.0 L346.0 318.7 L346.5 319.3 L345.9 320.1 L347.3 320.5 L346.2 321.5 L347.0 322.0" fill="none" stroke="#000" stroke-width="1.3" stroke-linejoin="round"/><path d="M355.7 115.6 L356.9 115.6 L357.6 114.9 L358.2 114.1 L359.1 113.1 L359.9 114.1 L361.0 114.0" fill="none" stroke="#222" stroke-width="0.8"/><path d="M361.5 110.4 L361.2 108.9 L361.7 108.1 L363.4 108.2 L363.7 106.6 L364.9 107.0 L366.0 108.0" fill="none" stroke="#222" stroke-width="0.8"/><path d="M366.4 105.0 L367.2 104.3 L368.0 103.6 L368.6 101.9 L369.7 102.9 L371.0 103.0" fill="none" stroke="#222" stroke-width="0.8"/><path d="M371.1 101.2 L372.0 100.8 L372.3 99.7 L373.6 100.0 L374.1 98.6 L375.0 99.4 L376.0 99.5" fill="none" stroke="#222" stroke-width="0.8"/><path d="M379.9 95.4 L381.2 95.2 L381.9 94.5 L382.6 93.2 L383.4 94.2 L384.5 94.0" fill="none" stroke="#222" stroke-width="0.8"/><path d="M444.4 11.5 L444.3 13.1 L445.1 13.5 L446.4 13.4 L446.9 14.3 L447.6 14.8 L448.1 15.6 L448.7 16.4 L450.2 16.1 L451.0 16.6 L450.9 18.3 L452.0 18.5" fill="none" stroke="#000" stroke-width="1.3" stroke-linejoin="round"/><path d="M446.8 21.8 L447.8 22.1 L449.2 20.8 L450.2 21.2 L450.8 22.8 L451.8 22.9 L452.8 23.2 L453.9 22.9 L454.5 23.8 L455.5 24.0" fill="none" stroke="#000" stroke-width="1.3" stroke-linejoin="round"/><path d="M450.2 26.6 L451.0 27.4 L452.1 27.5 L452.9 28.3 L453.9 28.7 L455.3 28.3 L456.4 28.7 L457.0 30.0" fill="none" stroke="#000" stroke-width="1.3" stroke-linejoin="round"/><path d="M451.2 31.6 L452.3 31.9 L453.1 32.8 L454.3 32.9 L455.4 33.4 L455.8 34.4 L456.1 35.6 L457.0 35.9 L458.0 36.0" fill="none" stroke="#000" stroke-width="1.3" stroke-linejoin="round"/><path d="M454.8 14.2 L455.4 15.1 L456.1 15.9 L456.7 16.8 L457.6 17.2 L457.9 18.2 L459.7 18.0 L459.6 19.2 L460.0 20.0" fill="none" stroke="#000" stroke-width="1.3" stroke-linejoin="round"/><path d="M459.6 18.3 L460.2 19.2 L461.4 19.6 L462.4 20.6 L462.6 21.6 L461.2 22.2 L461.3 23.1 L461.0 24.0" fill="none" stroke="#000" stroke-width="1.3" stroke-linejoin="round"/><path d="M469.7 9.9 L469.6 8.9 L470.7 8.1 L469.8 6.8 L470.9 6.0 L470.8 5.2 L469.7 4.8 L469.5 3.5 L468.2 3.3 L468.0 2.0" fill="none" stroke="#000" stroke-width="1.3" stroke-linejoin="round"/><path d="M475.5 11.8 L477.2 11.3 L476.2 9.8 L477.5 9.1 L476.9 7.7 L477.6 7.1 L478.6 5.8 L477.0 5.1 L477.5 3.9 L477.0 3.0" fill="none" stroke="#000" stroke-width="1.3" stroke-linejoin="round"/><path d="M341.6 137.5L340.6 143L339.8 148.5L339 154L338.6 158.5M341.4 138.3L339.4 137.7M341.1 140.4L339.8 140.4M340.8 142.3L339.4 142.4M340.5 143.9L339.3 143.7M340.2 145.9L338.1 146.2M340.0 147.3L338.4 146.7M339.7 149.4L336.7 149.5M339.4 151.5L337.4 151.9M339.2 152.8L337.4 153.1M338.9 155.1L336.8 154.5M338.6 156.6L337.0 156.3" fill="none" stroke="#000" stroke-width="1.1"/><path d="M370.8 315.5 L368.5 322.0 L366.7 327.9 L361.2 333.3 L354.4 336.1 L347.5 338.8 L342.0 339.5" fill="none" stroke="#000" stroke-width="0.8" stroke-dasharray="3 1"/><path d="M329.8 342.4 L332.5 341.2 L335.5 340 L338.5 338.6 L341.8 337.3 L342 338.6 L339 339.8 L336 341.2 L333 342.6 L330.2 343.4 Z M321 343.3 L322.3 343 L322.5 344 L321.2 344.2 Z" fill="#000" stroke="#000" stroke-width="0.6"/><path d="M121.3 201.4 L121.3 200.6 L121.5 199.8 L123.0 199.6 L122.8 198.7 L123.2 198.1 L123.3 197.2 L123.4 196.3 L124.4 196.5 L125.1 195.9 L126.0 195.8 L126.4 195.3 L127.0 195.9 L128.0 195.7 L129.0 195.6 L130.1 196.7 L128.9 197.1 L129.6 198.2 L128.5 198.7 L128.4 199.3 L128.2 200.6 L126.8 199.9 L126.8 201.4 L125.4 200.5 L124.9 200.9 L124.3 202.2 L123.3 201.4 L122.5 202.0" fill="none" stroke="#000" stroke-width="1.7" stroke-linejoin="round"/><path d="M123.6 199.2 L123.8 198.0 L124.5 198.1 L125.1 197.7 L126.1 198.1 L126.5 197.5" fill="none" stroke="#000" stroke-width="1.7" stroke-linejoin="round"/><path d="M130.9 189.8 L132.4 190.3 L132.2 189.0 L133.3 188.9 L134.1 188.8 L134.7 188.6 L135.2 187.7 L136.0 187.5 L136.4 186.3 L137.4 186.9 L138.1 186.4 L139.3 186.9 L139.8 186.0 L140.7 186.0 L141.1 185.0 L141.5 184.3 L142.5 184.5" fill="none" stroke="#000" stroke-width="1.7" stroke-linejoin="round"/><path d="M139.0 201.3 L139.7 201.5 L140.5 202.0 L141.0 200.6 L141.7 200.6 L142.9 200.1 L143.5 200.6 L144.3 200.7 L144.9 201.3 L145.3 202.2 L145.6 203.4 L146.6 203.2 L147.6 203.0 L148.3 203.5 L148.6 203.9 L149.1 204.9 L149.3 205.8 L147.6 206.0 L147.9 206.8 L147.5 208.1 L146.7 208.5 L146.3 208.3 L144.3 208.5 L145.6 210.0 L144.5 210.5" fill="none" stroke="#000" stroke-width="1.7" stroke-linejoin="round"/><path d="M141.2 202.6 L141.6 203.2 L142.4 202.8 L142.8 203.5 L143.6 203.3 L144.2 203.4 L144.5 204.1 L145.2 204.1 L145.7 204.7 L145.8 205.7 L147.0 205.0 L147.0 206.0" fill="none" stroke="#000" stroke-width="1.7" stroke-linejoin="round"/><path d="M110.1 202.0 L110.3 201.1 L110.9 201.0 L111.7 201.1 L111.7 199.9 L112.5 200.0 L113.1 200.3 L113.5 201.0 L114.5 199.8 L115.1 200.0 L115.5 200.8" fill="none" stroke="#000" stroke-width="1.7" stroke-linejoin="round"/><path d="M132.9 181.3 L133.6 181.0 L134.2 180.7 L134.7 180.2 L135.5 180.0 L136.1 179.5 L136.5 178.7 L137.5 179.0" fill="none" stroke="#000" stroke-width="1.7" stroke-linejoin="round"/><path d="M172.6 161 L173.4 155.5 L175 152.3 L177.2 153.6 L177.7 158 L176.5 161.6 L174.2 162.6 Z" fill="#000" stroke="#000" stroke-width="1"/><path d="M71.7 192.0 L74.5 191.5 L78.0 192.0 L82.1 193.4 L79.2 195.7 L78.3 197.6 L75.5 193.8 L71.7 192.0" fill="none" stroke="#000" stroke-width="0.8"/><path d="M305.6 240.5 L309.0 239.5 L312.5 241.0 L314.5 244.0 L312.0 247.5 L311.5 251.5 L309.0 253.5 L307.5 250.0 L309.5 246.5 L307.0 244.0" fill="none" stroke="#000" stroke-width="0.9"/><path d="M319.5 273.0 L322.0 272.5 L324.0 276.0 L323.5 281.0 L324.5 285.5 L321.5 287.0 L320.0 283.0 L321.5 279.0 L319.5 276.0" fill="none" stroke="#000" stroke-width="0.9"/><path d="M2.9 190.3 L5.1 187.4 L7.3 188.1 L7.3 193.9 L4.4 194.6 L1.5 192.5" fill="none" stroke="#000" stroke-width="0.8"/><path d="M135.5 175.0 L131.0 179.4 L131.4 182.4 L134.9 179.4 L138.5 178.2 L140.2 179.4 L143.2 184.1 L140.2 187.1 L134.9 189.4 L132.6 191.8 L133.8 195.3 L137.3 197.6 L142.0 200.0 L145.5 202.4 L148.5 204.7" fill="none" stroke="#000" stroke-width="0.9"/><path d="M347.5 271.9 L351.6 265.7 L355.7 264.4 L359.1 267.8 L358.5 274.6 L355.7 279.4 L350.3 276 Z" fill="none" stroke="#000" stroke-width="0.8"/><path d="M114.8 172.5 L116.5 169.4 L119.6 168.2 L123.2 169.2 L127.5 170 L131 171.3 L133.6 174.2 L129.6 176.5 L124.4 179.2 L119.6 178.8 L116.5 176.5 Z" fill="none" stroke="#000" stroke-width="0.8"/><path d="M110.3 172 L111.5 170 L113.6 170.3 L114.4 172.5 L112.3 174.6 Z" fill="none" stroke="#000" stroke-width="0.8"/></g></defs><rect width="1100" height="850" fill="#fff"/><text x="16" y="20" class="t1" textLength="470.4" lengthAdjust="spacingAndGlyphs">Storm Prediction Center - Day 1 Outlook 4-Panel</text><text x="16" y="39.8" class="t2" textLength="205" lengthAdjust="spacingAndGlyphs">Updated: Sun 2025-03-16 0100Z</text><text x="750.4" y="39.8" class="t2" textLength="343.4" lengthAdjust="spacingAndGlyphs">Valid: Sun 2025-03-16 0100Z - Mon 2025-03-17 1200Z</text><g transform="translate(33,70)"><text x="7.3" y="-11.3" class="pt" textLength="238.0" lengthAdjust="spacingAndGlyphs">Storm Prediction Center - Day 1 Categorical Outlook</text><text x="7.3" y="-2.2" class="ps" textLength="99" lengthAdjust="spacingAndGlyphs">Updated: Sun 2025-03-16 0100Z</text><text x="324.3" y="-2.2" class="ps" textLength="168.5" lengthAdjust="spacingAndGlyphs">Valid: Sun 2025-03-16 0100Z - Mon 2025-03-17 1200Z</text><g clip-path="url(#clipmap)"><path d="M94.3 0.0 L84.1 12.7 L64.4 28.2 L46.6 40.9 L29.5 70.5 L43.2 103.4 L95.5 106.8 L117.0 114.0 L127.2 124.5 L117.0 147.8 L106.9 170.0 L89.3 211.2 L99.3 218.3 L109.1 218.3 L122.7 218.0 L129.5 214.6 L134.1 220.3 L140.9 222.6 L156.8 218.0 L160.2 205.5 L159.1 198.7 L163.6 188.5 L168.2 182.8 L181.8 180.5 L196.0 179.8 L206.7 179.5 L214.0 178.6 L224.9 183.2 L229.5 188.6 L231.8 194.2 L240.9 198.7 L250.0 202.1 L263.6 194.2 L275.1 189.4 L281.7 198.0 L288.3 206.2 L291.6 213.7 L295.7 217.0 L299.8 219.4 L299.8 223.5 L296.5 229.3 L295.7 232.6 L299.8 223.5 L308.1 211.2 L318.0 193.9 L331.1 170.0 L337.5 163.6 L345.5 145.5 L354.5 122.7 L368.2 95.5 L375.0 77.3 L376.1 45.5 L376.6 0.0 Z" fill="#bee8ca" stroke="#6f8f74" stroke-width="0.9" stroke-linejoin="round"/><path d="M178.3 0.0 L172.6 30.1 L168.0 56.5 L166.0 72.0 L146.1 110.0 L118.5 166.7 L115.8 170.0 L112.2 178.8 L108.7 187.6 L101.1 204.1 L95.8 216.5 L99.5 218.5 L109.1 218.3 L122.7 218.0 L129.5 214.6 L134.1 220.3 L140.9 222.6 L156.8 218.0 L160.2 205.5 L159.1 198.7 L163.6 188.5 L168.2 182.8 L181.8 180.5 L196.0 179.8 L206.7 179.5 L214.0 178.6 L224.9 183.2 L229.5 188.6 L231.8 194.2 L240.9 198.7 L250.0 202.1 L263.6 194.2 L275.1 189.4 L281.7 198.0 L288.3 206.2 L293.2 198.0 L306.4 170.0 L322.7 136.4 L342.0 100.0 L353.1 80.0 L359.7 56.5 L365.4 37.6 L371.0 18.8 L373.0 0.0 Z" fill="#74c282" stroke="#008b00" stroke-width="0.9" stroke-linejoin="round"/><path d="M185.8 0.0 L181.1 30.1 L176.4 54.6 L172.5 72.7 L159.1 100.0 L153.4 110.0 L129.4 160.9 L122.8 170.0 L118.1 180.6 L112.2 192.9 L104.0 208.8 L100.2 218.2 L122.7 218.0 L129.5 214.6 L134.1 220.3 L140.9 222.6 L156.8 218.0 L160.2 205.5 L159.1 198.7 L163.6 188.5 L168.2 182.8 L181.8 180.5 L196.0 179.8 L206.7 179.5 L214.0 178.6 L224.9 183.2 L229.5 188.6 L231.8 194.2 L240.9 198.7 L250.0 202.1 L257.0 198.8 L265.2 196.4 L273.5 189.4 L280.9 179.1 L284.2 170.0 L288.6 163.6 L302.3 136.4 L316.5 109.1 L323.0 95.0 L329.6 80.0 L336.2 52.7 L340.9 28.2 L343.5 18.0 L345.6 7.5 L344.0 0.0 Z" fill="#f6f67f" stroke="#ff9b00" stroke-width="0.9" stroke-linejoin="round"/><path d="M259.0 0.0 L231.0 28.2 L214.1 50.8 L194.3 80.0 L173.0 110.0 L157.7 140.5 L137.4 170.0 L134.0 176.0 L109.1 218.3 L122.7 218.0 L129.5 214.6 L134.1 220.3 L140.9 222.6 L156.8 218.0 L160.2 205.5 L159.1 198.7 L163.6 188.5 L168.2 182.8 L181.8 180.5 L196.0 179.8 L206.7 179.5 L214.0 178.6 L224.9 183.2 L229.5 188.6 L231.8 194.2 L240.9 198.7 L247.4 201.6 L257.3 185.5 L264.9 174.1 L272.6 160.3 L281.8 145.0 L290.5 127.1 L299.0 108.2 L305.6 80.0 L305.7 75.0 L302.3 52.3 L295.5 27.3 L292.0 9.1 L284.1 0.0 Z" fill="#e6c27f" stroke="#ff6a00" stroke-width="0.9" stroke-linejoin="round"/><path d="M240.4 41.4 L236.7 44.3 L225.4 55.6 L221.1 61.1 L213.0 73.0 L202.2 86.5 L185.3 110.0 L169.4 128.2 L163.5 139.1 L147.5 170.0 L145.5 175.9 L154.5 182.8 L209.1 177.1 L224.0 171.2 L238.1 165.3 L247.5 148.8 L254.6 137.1 L261.4 113.6 L262.5 86.4 L263.0 80.0 L261.2 61.2 L257.4 45.7 Z" fill="#e67f7f" stroke="#e00000" stroke-width="1.1" stroke-linejoin="round"/><use href="#base"/></g><path d="M0.5 0V352M499.5 0V352" stroke="#c4c4c4" stroke-width="1"/><path d="M0 0.5H500M0 351.5H500" stroke="#8a8a8a" stroke-width="1.2"/><text x="7" y="348.7" class="www" textLength="84.8" lengthAdjust="spacingAndGlyphs">www.pivotalweather.com</text><text y="344.9" class="logo"><tspan x="354.5" textLength="26.8" lengthAdjust="spacingAndGlyphs">piv</tspan><tspan x="382.6" y="343.9" style="font-size:16.3px">o</tspan><tspan x="393.1" y="344.9" textLength="23.4" lengthAdjust="spacingAndGlyphs">tal</tspan> <tspan x="422" textLength="75.8" lengthAdjust="spacingAndGlyphs">weather</tspan></text><circle cx="387.5" cy="339.8" r="4.85" fill="none" stroke="#111" stroke-width="1.9" stroke-dasharray="1.85 1.96" transform="rotate(10 387.5 339.8)"/><rect x="6.50" y="359.3" width="69.50" height="5.2" fill="#ffffff"/><text x="41.25" y="357.6" class="lg" text-anchor="middle">NONE</text><rect x="76.00" y="359.3" width="69.50" height="5.2" fill="#bee8ca"/><text x="110.75" y="357.6" class="lg" text-anchor="middle">TSTM</text><rect x="145.50" y="359.3" width="69.50" height="5.2" fill="#74c282"/><text x="180.25" y="357.6" class="lg" text-anchor="middle">MRGL</text><rect x="215.00" y="359.3" width="69.50" height="5.2" fill="#f6f67f"/><text x="249.75" y="357.6" class="lg" text-anchor="middle">SLGT</text><rect x="284.50" y="359.3" width="69.50" height="5.2" fill="#e6c27f"/><text x="319.25" y="357.6" class="lg" text-anchor="middle">ENH</text><rect x="354.00" y="359.3" width="69.50" height="5.2" fill="#e67f7f"/><text x="388.75" y="357.6" class="lg" text-anchor="middle">MDT</text><rect x="423.50" y="359.3" width="69.50" height="5.2" fill="#ff7fff"/><text x="458.25" y="357.6" class="lg" text-anchor="middle">HIGH</text><rect x="6.50" y="359.3" width="69.50" height="5.2" fill="none" stroke="#bbb" stroke-width="0.6"/></g><g transform="translate(566,70)"><text x="7.3" y="-11.3" class="pt" textLength="225.0" lengthAdjust="spacingAndGlyphs">Storm Prediction Center - Day 1 Tornado Outlook</text><text x="7.3" y="-2.2" class="ps" textLength="99" lengthAdjust="spacingAndGlyphs">Updated: Sun 2025-03-16 0100Z</text><text x="324.3" y="-2.2" class="ps" textLength="168.5" lengthAdjust="spacingAndGlyphs">Valid: Sun 2025-03-16 0100Z - Mon 2025-03-17 1200Z</text><g clip-path="url(#clipmap)"><path d="M178.3 0.0 L172.6 30.1 L168.0 56.5 L166.0 72.0 L146.1 110.0 L118.5 166.7 L115.8 170.0 L112.2 178.8 L108.7 187.6 L101.1 204.1 L95.8 216.5 L98.9 218.5 L109.1 218.3 L122.7 218.0 L129.5 214.6 L134.1 220.3 L140.9 222.6 L156.8 218.0 L160.2 205.5 L159.1 198.7 L163.6 188.5 L168.2 182.8 L181.8 180.5 L196.0 179.8 L206.7 179.5 L214.0 178.6 L224.9 183.2 L229.5 188.6 L231.8 194.2 L240.9 198.7 L250.0 202.1 L263.6 195.3 L274.6 190.0 L287.5 205.3 L306.4 171.2 L324.0 139.4 L329.5 127.3 L343.0 97.0 L350.1 80.0 L356.7 47.1 L359.5 23.5 L361.4 0.0 Z" fill="#74c282" stroke="#008b00" stroke-width="0.9" stroke-linejoin="round"/><path d="M185.8 0.0 L181.1 30.1 L176.4 54.6 L172.5 72.7 L159.1 100.0 L153.4 110.0 L129.4 160.9 L122.8 170.0 L118.1 180.6 L112.2 192.9 L104.0 208.8 L100.0 218.5 L109.1 218.3 L122.7 218.0 L129.5 214.6 L134.1 220.3 L140.9 222.6 L156.8 218.0 L160.2 205.5 L159.1 198.7 L163.6 188.5 L168.2 182.8 L181.8 180.5 L196.0 179.8 L206.7 179.5 L214.0 178.6 L224.9 183.2 L229.5 188.6 L231.8 194.2 L240.9 198.7 L250.0 202.1 L248.7 202.9 L262.8 197.1 L271.1 191.2 L279.3 178.2 L287.5 164.1 L297.0 147.6 L306.4 130.0 L314.6 110.0 L318.2 102.3 L328.4 68.2 L330.7 10.2 L321.0 0.0 Z" fill="#c5a393" stroke="#8b4726" stroke-width="0.9" stroke-linejoin="round"/><path d="M252.2 5.9 L229.5 30.0 L214.0 50.9 L194.3 80.0 L173.0 110.0 L157.7 140.5 L137.4 170.0 L134.0 176.0 L109.1 218.3 L122.7 218.0 L129.5 214.6 L134.1 220.3 L140.9 222.6 L156.8 218.0 L160.2 205.5 L159.1 198.7 L163.6 188.5 L168.2 182.8 L181.8 180.5 L196.0 179.8 L206.7 179.5 L214.0 178.6 L224.9 183.2 L229.5 188.6 L231.8 194.2 L240.9 198.7 L247.5 201.8 L255.0 191.5 L262.8 180.6 L268.0 170.5 L273.4 160.6 L279.3 152.4 L287.5 135.9 L294.6 121.8 L298.1 110.0 L302.3 97.7 L304.9 70.0 L301.3 45.5 L298.5 33.6 L294.0 29.1 L283.1 20.0 L276.7 16.4 Z" fill="#f8f07f" stroke="#ffa500" stroke-width="0.9" stroke-linejoin="round"/><path d="M240.4 41.4 L236.7 44.3 L225.4 55.6 L221.1 61.1 L213.0 73.0 L202.2 86.5 L185.3 110.0 L169.4 128.2 L163.5 139.1 L147.5 170.0 L145.5 175.9 L154.5 182.8 L209.1 177.1 L224.0 171.2 L238.1 165.3 L247.5 148.8 L254.6 137.1 L261.4 113.6 L262.5 86.4 L263.0 80.0 L261.2 61.2 L257.4 45.7 Z" fill="#ff8080" stroke="#e00000" stroke-width="1.1" stroke-linejoin="round"/><path d="M252.2 5.9 L229.5 30.0 L214.0 50.9 L194.3 80.0 L173.0 110.0 L157.7 140.5 L137.4 170.0 L134.0 176.0 L115.8 206.7 L137.6 203.8 L159.5 200.2 L159.1 198.7 L163.6 188.5 L168.2 182.8 L181.8 180.5 L204.5 179.4 L215.0 180.5 L224.0 184.1 L231.1 187.6 L240.0 191.0 L247.5 192.4 L255.8 186.5 L264.0 175.9 L273.4 158.2 L280.5 142.9 L287.5 130.0 L292.2 117.1 L293.4 110.0 L297.5 100.0 L300.6 68.0 L300.4 45.5 L298.5 33.6 L294.0 29.1 L283.1 20.0 L276.7 16.4 Z" fill="url(#hatch)" stroke="#2a2a2a" stroke-width="1.1"/><use href="#base"/></g><path d="M0.5 0V352M499.5 0V352" stroke="#c4c4c4" stroke-width="1"/><path d="M0 0.5H500M0 351.5H500" stroke="#8a8a8a" stroke-width="1.2"/><text x="7" y="348.7" class="www" textLength="84.8" lengthAdjust="spacingAndGlyphs">www.pivotalweather.com</text><text y="344.9" class="logo"><tspan x="354.5" textLength="26.8" lengthAdjust="spacingAndGlyphs">piv</tspan><tspan x="382.6" y="343.9" style="font-size:16.3px">o</tspan><tspan x="393.1" y="344.9" textLength="23.4" lengthAdjust="spacingAndGlyphs">tal</tspan> <tspan x="422" textLength="75.8" lengthAdjust="spacingAndGlyphs">weather</tspan></text><circle cx="387.5" cy="339.8" r="4.85" fill="none" stroke="#111" stroke-width="1.9" stroke-dasharray="1.85 1.96" transform="rotate(10 387.5 339.8)"/><rect x="6.50" y="359.3" width="54.06" height="5.2" fill="#ffffff"/><text x="33.53" y="357.6" class="lg" text-anchor="middle">&lt; 2%</text><rect x="60.56" y="359.3" width="54.06" height="5.2" fill="#74c282"/><text x="87.58" y="357.6" class="lg" text-anchor="middle">2%</text><rect x="114.61" y="359.3" width="54.06" height="5.2" fill="#c5a393"/><text x="141.64" y="357.6" class="lg" text-anchor="middle">5%</text><rect x="168.67" y="359.3" width="54.06" height="5.2" fill="#f8f07f"/><text x="195.69" y="357.6" class="lg" text-anchor="middle">10%</text><rect x="222.72" y="359.3" width="54.06" height="5.2" fill="#ff8080"/><text x="249.75" y="357.6" class="lg" text-anchor="middle">15%</text><rect x="276.78" y="359.3" width="54.06" height="5.2" fill="#c896f7"/><text x="303.81" y="357.6" class="lg" text-anchor="middle">30%</text><rect x="330.83" y="359.3" width="54.06" height="5.2" fill="#9b30ee"/><text x="357.86" y="357.6" class="lg" text-anchor="middle">45%</text><rect x="384.89" y="359.3" width="54.06" height="5.2" fill="#104e8b"/><text x="411.92" y="357.6" class="lg" text-anchor="middle">60%</text><rect x="438.94" y="359.3" width="54.06" height="5.2" fill="url(#hatchleg)"/><text x="465.97" y="357.6" class="lg" text-anchor="middle">Sig</text><rect x="6.50" y="359.3" width="54.06" height="5.2" fill="none" stroke="#bbb" stroke-width="0.6"/></g><g transform="translate(33,465)"><text x="7.3" y="-11.3" class="pt" textLength="204.0" lengthAdjust="spacingAndGlyphs">Storm Prediction Center - Day 1 Hail Outlook</text><text x="7.3" y="-2.2" class="ps" textLength="99" lengthAdjust="spacingAndGlyphs">Updated: Sun 2025-03-16 0100Z</text><text x="324.3" y="-2.2" class="ps" textLength="168.5" lengthAdjust="spacingAndGlyphs">Valid: Sun 2025-03-16 0100Z - Mon 2025-03-17 1200Z</text><g clip-path="url(#clipmap)"><path d="M186.6 0.0 L185.2 2.8 L180.3 30.3 L175.3 60.0 L172.5 72.7 L159.1 100.0 L153.4 110.0 L129.4 160.9 L122.8 170.0 L118.1 180.6 L112.2 192.9 L104.0 208.8 L100.2 218.3 L109.1 218.3 L122.7 218.0 L129.5 214.6 L134.1 220.3 L140.9 222.6 L156.8 218.0 L160.2 205.5 L159.1 198.7 L163.6 188.5 L168.2 182.8 L181.8 180.5 L196.0 179.8 L206.7 179.5 L214.0 178.6 L224.9 183.2 L229.5 188.6 L231.8 194.2 L248.0 202.8 L260.1 197.5 L272.3 188.4 L281.4 174.7 L290.5 156.5 L299.6 138.3 L305.7 117.0 L309.1 106.8 L318.2 75.0 L322.7 56.8 L325.0 29.5 L320.5 0.0 Z" fill="#74c282" stroke="#008b00" stroke-width="0.9" stroke-linejoin="round"/><path d="M245.5 13.6 L229.5 29.5 L214.1 50.8 L194.3 80.0 L173.0 110.0 L157.7 140.5 L137.4 170.0 L134.0 176.0 L109.1 218.3 L122.7 218.0 L129.5 214.6 L134.1 220.3 L140.9 222.6 L156.8 218.0 L160.2 205.5 L159.1 198.7 L163.6 188.5 L168.2 182.8 L181.8 180.5 L196.0 179.8 L206.7 179.5 L214.0 178.6 L224.9 183.2 L229.5 188.6 L231.8 194.2 L243.2 198.7 L248.0 202.0 L257.1 185.3 L268.2 163.6 L277.3 143.2 L284.1 118.2 L287.5 97.7 L288.6 51.1 L278.4 29.5 L268.2 22.7 L250.0 14.8 Z" fill="#f8f07f" stroke="#ffa500" stroke-width="0.9" stroke-linejoin="round"/><path d="M200.5 100.8 L214.3 105.2 L226.6 109.5 L245.5 124.1 L250.0 131.8 L256.8 143.2 L259.1 154.5 L254.5 165.9 L248.0 178.0 L241.0 182.0 L227.3 185.1 L217.0 178.5 L202.5 180.6 L180.6 183.2 L152.3 183.5 L145.0 175.5 L149.4 166.1 L159.1 147.7 L167.0 130.6 L184.5 110.3 Z" fill="url(#hatch)" stroke="#2a2a2a" stroke-width="1.1"/><use href="#base"/></g><path d="M0.5 0V352M499.5 0V352" stroke="#c4c4c4" stroke-width="1"/><path d="M0 0.5H500M0 351.5H500" stroke="#8a8a8a" stroke-width="1.2"/><text x="7" y="348.7" class="www" textLength="84.8" lengthAdjust="spacingAndGlyphs">www.pivotalweather.com</text><text y="344.9" class="logo"><tspan x="354.5" textLength="26.8" lengthAdjust="spacingAndGlyphs">piv</tspan><tspan x="382.6" y="343.9" style="font-size:16.3px">o</tspan><tspan x="393.1" y="344.9" textLength="23.4" lengthAdjust="spacingAndGlyphs">tal</tspan> <tspan x="422" textLength="75.8" lengthAdjust="spacingAndGlyphs">weather</tspan></text><circle cx="387.5" cy="339.8" r="4.85" fill="none" stroke="#111" stroke-width="1.9" stroke-dasharray="1.85 1.96" transform="rotate(10 387.5 339.8)"/><rect x="6.50" y="359.3" width="69.50" height="5.2" fill="#ffffff"/><text x="41.25" y="357.6" class="lg" text-anchor="middle">&lt; 5%</text><rect x="76.00" y="359.3" width="69.50" height="5.2" fill="#74c282"/><text x="110.75" y="357.6" class="lg" text-anchor="middle">5%</text><rect x="145.50" y="359.3" width="69.50" height="5.2" fill="#f8f07f"/><text x="180.25" y="357.6" class="lg" text-anchor="middle">15%</text><rect x="215.00" y="359.3" width="69.50" height="5.2" fill="#ff8080"/><text x="249.75" y="357.6" class="lg" text-anchor="middle">30%</text><rect x="284.50" y="359.3" width="69.50" height="5.2" fill="#c896f7"/><text x="319.25" y="357.6" class="lg" text-anchor="middle">45%</text><rect x="354.00" y="359.3" width="69.50" height="5.2" fill="#9b30ee"/><text x="388.75" y="357.6" class="lg" text-anchor="middle">60%</text><rect x="423.50" y="359.3" width="69.50" height="5.2" fill="url(#hatchleg)"/><text x="458.25" y="357.6" class="lg" text-anchor="middle">Sig</text><rect x="6.50" y="359.3" width="69.50" height="5.2" fill="none" stroke="#bbb" stroke-width="0.6"/></g><g transform="translate(566,465)"><text x="7.3" y="-11.3" class="pt" textLength="209.0" lengthAdjust="spacingAndGlyphs">Storm Prediction Center - Day 1 Wind Outlook</text><text x="7.3" y="-2.2" class="ps" textLength="99" lengthAdjust="spacingAndGlyphs">Updated: Sun 2025-03-16 0100Z</text><text x="324.3" y="-2.2" class="ps" textLength="168.5" lengthAdjust="spacingAndGlyphs">Valid: Sun 2025-03-16 0100Z - Mon 2025-03-17 1200Z</text><g clip-path="url(#clipmap)"><path d="M178.3 0.0 L172.6 30.1 L168.0 56.5 L166.0 72.0 L146.1 110.0 L118.5 166.7 L115.8 170.0 L112.2 178.8 L108.7 187.6 L101.1 204.1 L95.8 216.5 L98.9 218.5 L109.1 218.3 L122.7 218.0 L129.5 214.6 L134.1 220.3 L140.9 222.6 L156.8 218.0 L160.2 205.5 L159.1 198.7 L163.6 188.5 L168.2 182.8 L181.8 180.5 L196.0 179.8 L206.7 179.5 L214.0 178.6 L224.9 183.2 L229.5 188.6 L231.8 194.2 L240.9 198.7 L250.0 202.1 L263.6 194.2 L275.1 189.4 L281.7 198.0 L288.3 206.2 L293.2 198.0 L306.4 170.0 L322.7 136.4 L342.0 100.0 L353.1 80.0 L359.7 56.5 L365.4 37.6 L371.0 18.8 L373.0 0.0 Z" fill="#74c282" stroke="#008b00" stroke-width="0.9" stroke-linejoin="round"/><path d="M185.8 0.0 L181.1 30.1 L176.4 54.6 L172.5 72.7 L159.1 100.0 L153.4 110.0 L129.4 160.9 L122.8 170.0 L118.1 180.6 L112.2 192.9 L104.0 208.8 L100.2 218.2 L122.7 218.0 L129.5 214.6 L134.1 220.3 L140.9 222.6 L156.8 218.0 L160.2 205.5 L159.1 198.7 L163.6 188.5 L168.2 182.8 L181.8 180.5 L196.0 179.8 L206.7 179.5 L214.0 178.6 L224.9 183.2 L229.5 188.6 L231.8 194.2 L240.9 198.7 L250.0 202.1 L257.0 198.8 L265.2 196.4 L273.5 189.4 L280.9 179.1 L284.2 170.0 L288.6 163.6 L302.3 136.4 L316.5 109.1 L323.0 95.0 L329.6 80.0 L336.2 52.7 L340.9 28.2 L343.5 18.0 L345.6 7.5 L344.0 0.0 Z" fill="#f8f07f" stroke="#ffa500" stroke-width="0.9" stroke-linejoin="round"/><path d="M258.5 0.0 L231.0 28.2 L214.1 50.8 L194.3 80.0 L173.0 110.0 L157.7 140.5 L137.4 170.0 L134.0 176.0 L109.1 218.3 L122.7 218.0 L129.5 214.6 L134.1 220.3 L140.9 222.6 L156.8 218.0 L160.2 205.5 L159.1 198.7 L163.6 188.5 L168.2 182.8 L181.8 180.5 L196.0 179.8 L206.7 179.5 L214.0 178.6 L224.9 183.2 L229.5 188.6 L231.8 194.2 L240.9 198.7 L247.4 201.6 L257.3 185.5 L264.9 174.1 L272.6 160.3 L281.8 145.0 L290.5 127.1 L299.0 108.2 L305.6 80.0 L305.7 75.0 L302.3 52.3 L295.5 27.3 L292.0 9.1 L284.1 0.0 Z" fill="#ff8080" stroke="#e00000" stroke-width="1.1" stroke-linejoin="round"/><path d="M258.5 0.0 L231.0 28.2 L214.1 50.8 L207.5 62.0 L203.0 75.0 L198.0 95.0 L193.5 110.0 L191.3 125.0 L195.8 147.7 L200.4 161.4 L203.1 169.5 L205.8 176.8 L211.3 178.6 L222.2 183.2 L231.3 185.0 L241.3 190.0 L247.6 183.2 L255.8 169.5 L263.1 158.6 L269.5 146.8 L274.9 134.1 L277.6 125.0 L280.7 102.3 L283.5 100.0 L285.4 76.4 L287.3 44.5 L288.5 25.5 L290.5 6.4 L282.0 0.0 Z" fill="url(#hatch)" stroke="#2a2a2a" stroke-width="1.1"/><use href="#base"/></g><path d="M0.5 0V352M499.5 0V352" stroke="#c4c4c4" stroke-width="1"/><path d="M0 0.5H500M0 351.5H500" stroke="#8a8a8a" stroke-width="1.2"/><text x="7" y="348.7" class="www" textLength="84.8" lengthAdjust="spacingAndGlyphs">www.pivotalweather.com</text><text y="344.9" class="logo"><tspan x="354.5" textLength="26.8" lengthAdjust="spacingAndGlyphs">piv</tspan><tspan x="382.6" y="343.9" style="font-size:16.3px">o</tspan><tspan x="393.1" y="344.9" textLength="23.4" lengthAdjust="spacingAndGlyphs">tal</tspan> <tspan x="422" textLength="75.8" lengthAdjust="spacingAndGlyphs">weather</tspan></text><circle cx="387.5" cy="339.8" r="4.85" fill="none" stroke="#111" stroke-width="1.9" stroke-dasharray="1.85 1.96" transform="rotate(10 387.5 339.8)"/><rect x="6.50" y="359.3" width="69.50" height="5.2" fill="#ffffff"/><text x="41.25" y="357.6" class="lg" text-anchor="middle">&lt; 5%</text><rect x="76.00" y="359.3" width="69.50" height="5.2" fill="#74c282"/><text x="110.75" y="357.6" class="lg" text-anchor="middle">5%</text><rect x="145.50" y="359.3" width="69.50" height="5.2" fill="#f8f07f"/><text x="180.25" y="357.6" class="lg" text-anchor="middle">15%</text><rect x="215.00" y="359.3" width="69.50" height="5.2" fill="#ff8080"/><text x="249.75" y="357.6" class="lg" text-anchor="middle">30%</text><rect x="284.50" y="359.3" width="69.50" height="5.2" fill="#c896f7"/><text x="319.25" y="357.6" class="lg" text-anchor="middle">45%</text><rect x="354.00" y="359.3" width="69.50" height="5.2" fill="#9b30ee"/><text x="388.75" y="357.6" class="lg" text-anchor="middle">60%</text><rect x="423.50" y="359.3" width="69.50" height="5.2" fill="url(#hatchleg)"/><text x="458.25" y="357.6" class="lg" text-anchor="middle">Sig</text><rect x="6.50" y="359.3" width="69.50" height="5.2" fill="none" stroke="#bbb" stroke-width="0.6"/></g></svg></body></html>
